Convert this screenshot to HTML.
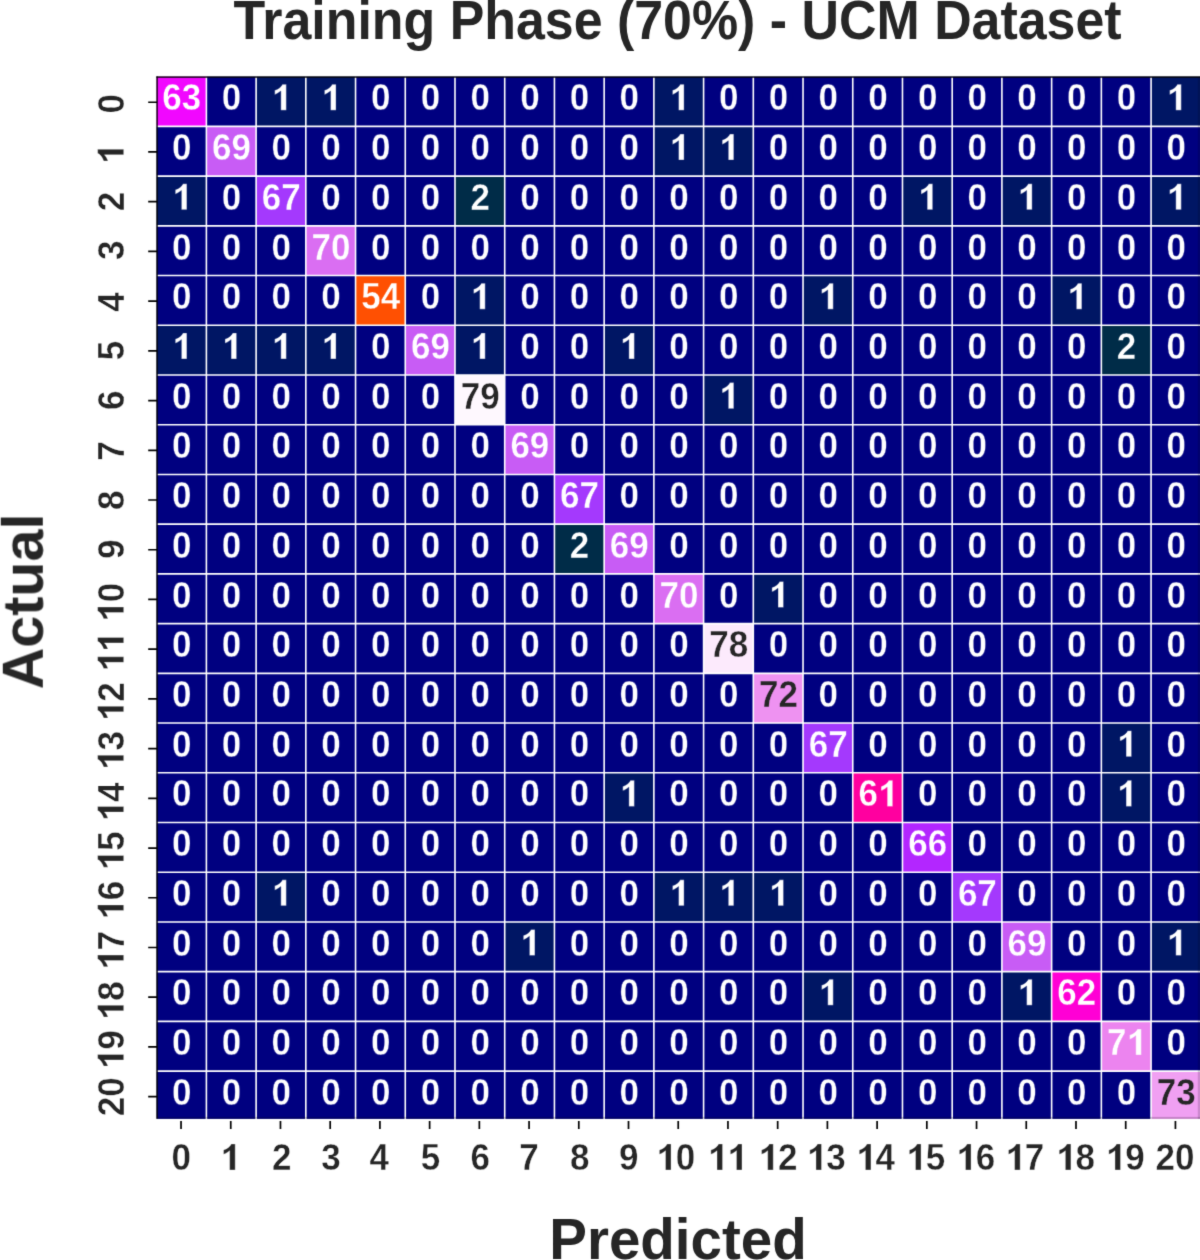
<!DOCTYPE html>
<html><head><meta charset="utf-8"><style>
html,body{margin:0;padding:0;background:#fff;width:1200px;height:1260px;overflow:hidden}
#w{position:absolute;left:0;top:0;width:1200px;height:1260px;}
svg{display:block}
text{font-family:"Liberation Sans",sans-serif;font-weight:bold}
</style></head><body><div id="w">
<svg width="1200" height="1260" viewBox="0 0 1200 1260">
<defs><filter id="bl" color-interpolation-filters="sRGB" x="0" y="0" width="1200" height="1260" filterUnits="userSpaceOnUse"><feConvolveMatrix order="3" kernelMatrix="0.0144 0.0912 0.0144 0.0912 0.5776 0.0912 0.0144 0.0912 0.0144" edgeMode="duplicate" preserveAlpha="true"/></filter><path id="one" d="M0.265 0L0.423 0L0.423 0.716L0.31 0.716C0.285 0.65 0.2 0.585 0.09 0.55L0.09 0.43C0.155 0.452 0.22 0.49 0.265 0.53Z"/></defs>
<g filter="url(#bl)"><rect width="1200" height="1260" fill="#fff"/>
<g><rect x="156.67" y="76.69" width="49.72" height="49.72" fill="#f107ff"/><rect x="206.39" y="76.69" width="49.72" height="49.72" fill="#000080"/><rect x="256.11" y="76.69" width="49.72" height="49.72" fill="#001664"/><rect x="305.83" y="76.69" width="49.72" height="49.72" fill="#001664"/><rect x="355.55" y="76.69" width="49.72" height="49.72" fill="#000080"/><rect x="405.27" y="76.69" width="49.72" height="49.72" fill="#000080"/><rect x="454.99" y="76.69" width="49.72" height="49.72" fill="#000080"/><rect x="504.71" y="76.69" width="49.72" height="49.72" fill="#000080"/><rect x="554.43" y="76.69" width="49.72" height="49.72" fill="#000080"/><rect x="604.15" y="76.69" width="49.72" height="49.72" fill="#000080"/><rect x="653.87" y="76.69" width="49.72" height="49.72" fill="#001664"/><rect x="703.59" y="76.69" width="49.72" height="49.72" fill="#000080"/><rect x="753.31" y="76.69" width="49.72" height="49.72" fill="#000080"/><rect x="803.03" y="76.69" width="49.72" height="49.72" fill="#000080"/><rect x="852.75" y="76.69" width="49.72" height="49.72" fill="#000080"/><rect x="902.47" y="76.69" width="49.72" height="49.72" fill="#000080"/><rect x="952.19" y="76.69" width="49.72" height="49.72" fill="#000080"/><rect x="1001.91" y="76.69" width="49.72" height="49.72" fill="#000080"/><rect x="1051.63" y="76.69" width="49.72" height="49.72" fill="#000080"/><rect x="1101.35" y="76.69" width="49.72" height="49.72" fill="#000080"/><rect x="1151.07" y="76.69" width="49.72" height="49.72" fill="#001664"/><rect x="156.67" y="126.41" width="49.72" height="49.72" fill="#000080"/><rect x="206.39" y="126.41" width="49.72" height="49.72" fill="#c85cf5"/><rect x="256.11" y="126.41" width="49.72" height="49.72" fill="#000080"/><rect x="305.83" y="126.41" width="49.72" height="49.72" fill="#000080"/><rect x="355.55" y="126.41" width="49.72" height="49.72" fill="#000080"/><rect x="405.27" y="126.41" width="49.72" height="49.72" fill="#000080"/><rect x="454.99" y="126.41" width="49.72" height="49.72" fill="#000080"/><rect x="504.71" y="126.41" width="49.72" height="49.72" fill="#000080"/><rect x="554.43" y="126.41" width="49.72" height="49.72" fill="#000080"/><rect x="604.15" y="126.41" width="49.72" height="49.72" fill="#000080"/><rect x="653.87" y="126.41" width="49.72" height="49.72" fill="#001664"/><rect x="703.59" y="126.41" width="49.72" height="49.72" fill="#001664"/><rect x="753.31" y="126.41" width="49.72" height="49.72" fill="#000080"/><rect x="803.03" y="126.41" width="49.72" height="49.72" fill="#000080"/><rect x="852.75" y="126.41" width="49.72" height="49.72" fill="#000080"/><rect x="902.47" y="126.41" width="49.72" height="49.72" fill="#000080"/><rect x="952.19" y="126.41" width="49.72" height="49.72" fill="#000080"/><rect x="1001.91" y="126.41" width="49.72" height="49.72" fill="#000080"/><rect x="1051.63" y="126.41" width="49.72" height="49.72" fill="#000080"/><rect x="1101.35" y="126.41" width="49.72" height="49.72" fill="#000080"/><rect x="1151.07" y="126.41" width="49.72" height="49.72" fill="#000080"/><rect x="156.67" y="176.13" width="49.72" height="49.72" fill="#001664"/><rect x="206.39" y="176.13" width="49.72" height="49.72" fill="#000080"/><rect x="256.11" y="176.13" width="49.72" height="49.72" fill="#a439fd"/><rect x="305.83" y="176.13" width="49.72" height="49.72" fill="#000080"/><rect x="355.55" y="176.13" width="49.72" height="49.72" fill="#000080"/><rect x="405.27" y="176.13" width="49.72" height="49.72" fill="#000080"/><rect x="454.99" y="176.13" width="49.72" height="49.72" fill="#002c48"/><rect x="504.71" y="176.13" width="49.72" height="49.72" fill="#000080"/><rect x="554.43" y="176.13" width="49.72" height="49.72" fill="#000080"/><rect x="604.15" y="176.13" width="49.72" height="49.72" fill="#000080"/><rect x="653.87" y="176.13" width="49.72" height="49.72" fill="#000080"/><rect x="703.59" y="176.13" width="49.72" height="49.72" fill="#000080"/><rect x="753.31" y="176.13" width="49.72" height="49.72" fill="#000080"/><rect x="803.03" y="176.13" width="49.72" height="49.72" fill="#000080"/><rect x="852.75" y="176.13" width="49.72" height="49.72" fill="#000080"/><rect x="902.47" y="176.13" width="49.72" height="49.72" fill="#001664"/><rect x="952.19" y="176.13" width="49.72" height="49.72" fill="#000080"/><rect x="1001.91" y="176.13" width="49.72" height="49.72" fill="#001664"/><rect x="1051.63" y="176.13" width="49.72" height="49.72" fill="#000080"/><rect x="1101.35" y="176.13" width="49.72" height="49.72" fill="#000080"/><rect x="1151.07" y="176.13" width="49.72" height="49.72" fill="#001664"/><rect x="156.67" y="225.85" width="49.72" height="49.72" fill="#000080"/><rect x="206.39" y="225.85" width="49.72" height="49.72" fill="#000080"/><rect x="256.11" y="225.85" width="49.72" height="49.72" fill="#000080"/><rect x="305.83" y="225.85" width="49.72" height="49.72" fill="#da6ef2"/><rect x="355.55" y="225.85" width="49.72" height="49.72" fill="#000080"/><rect x="405.27" y="225.85" width="49.72" height="49.72" fill="#000080"/><rect x="454.99" y="225.85" width="49.72" height="49.72" fill="#000080"/><rect x="504.71" y="225.85" width="49.72" height="49.72" fill="#000080"/><rect x="554.43" y="225.85" width="49.72" height="49.72" fill="#000080"/><rect x="604.15" y="225.85" width="49.72" height="49.72" fill="#000080"/><rect x="653.87" y="225.85" width="49.72" height="49.72" fill="#000080"/><rect x="703.59" y="225.85" width="49.72" height="49.72" fill="#000080"/><rect x="753.31" y="225.85" width="49.72" height="49.72" fill="#000080"/><rect x="803.03" y="225.85" width="49.72" height="49.72" fill="#000080"/><rect x="852.75" y="225.85" width="49.72" height="49.72" fill="#000080"/><rect x="902.47" y="225.85" width="49.72" height="49.72" fill="#000080"/><rect x="952.19" y="225.85" width="49.72" height="49.72" fill="#000080"/><rect x="1001.91" y="225.85" width="49.72" height="49.72" fill="#000080"/><rect x="1051.63" y="225.85" width="49.72" height="49.72" fill="#000080"/><rect x="1101.35" y="225.85" width="49.72" height="49.72" fill="#000080"/><rect x="1151.07" y="225.85" width="49.72" height="49.72" fill="#000080"/><rect x="156.67" y="275.57" width="49.72" height="49.72" fill="#000080"/><rect x="206.39" y="275.57" width="49.72" height="49.72" fill="#000080"/><rect x="256.11" y="275.57" width="49.72" height="49.72" fill="#000080"/><rect x="305.83" y="275.57" width="49.72" height="49.72" fill="#000080"/><rect x="355.55" y="275.57" width="49.72" height="49.72" fill="#ff5002"/><rect x="405.27" y="275.57" width="49.72" height="49.72" fill="#000080"/><rect x="454.99" y="275.57" width="49.72" height="49.72" fill="#001664"/><rect x="504.71" y="275.57" width="49.72" height="49.72" fill="#000080"/><rect x="554.43" y="275.57" width="49.72" height="49.72" fill="#000080"/><rect x="604.15" y="275.57" width="49.72" height="49.72" fill="#000080"/><rect x="653.87" y="275.57" width="49.72" height="49.72" fill="#000080"/><rect x="703.59" y="275.57" width="49.72" height="49.72" fill="#000080"/><rect x="753.31" y="275.57" width="49.72" height="49.72" fill="#000080"/><rect x="803.03" y="275.57" width="49.72" height="49.72" fill="#001664"/><rect x="852.75" y="275.57" width="49.72" height="49.72" fill="#000080"/><rect x="902.47" y="275.57" width="49.72" height="49.72" fill="#000080"/><rect x="952.19" y="275.57" width="49.72" height="49.72" fill="#000080"/><rect x="1001.91" y="275.57" width="49.72" height="49.72" fill="#000080"/><rect x="1051.63" y="275.57" width="49.72" height="49.72" fill="#001664"/><rect x="1101.35" y="275.57" width="49.72" height="49.72" fill="#000080"/><rect x="1151.07" y="275.57" width="49.72" height="49.72" fill="#000080"/><rect x="156.67" y="325.29" width="49.72" height="49.72" fill="#001664"/><rect x="206.39" y="325.29" width="49.72" height="49.72" fill="#001664"/><rect x="256.11" y="325.29" width="49.72" height="49.72" fill="#001664"/><rect x="305.83" y="325.29" width="49.72" height="49.72" fill="#001664"/><rect x="355.55" y="325.29" width="49.72" height="49.72" fill="#000080"/><rect x="405.27" y="325.29" width="49.72" height="49.72" fill="#c85cf5"/><rect x="454.99" y="325.29" width="49.72" height="49.72" fill="#001664"/><rect x="504.71" y="325.29" width="49.72" height="49.72" fill="#000080"/><rect x="554.43" y="325.29" width="49.72" height="49.72" fill="#000080"/><rect x="604.15" y="325.29" width="49.72" height="49.72" fill="#001664"/><rect x="653.87" y="325.29" width="49.72" height="49.72" fill="#000080"/><rect x="703.59" y="325.29" width="49.72" height="49.72" fill="#000080"/><rect x="753.31" y="325.29" width="49.72" height="49.72" fill="#000080"/><rect x="803.03" y="325.29" width="49.72" height="49.72" fill="#000080"/><rect x="852.75" y="325.29" width="49.72" height="49.72" fill="#000080"/><rect x="902.47" y="325.29" width="49.72" height="49.72" fill="#000080"/><rect x="952.19" y="325.29" width="49.72" height="49.72" fill="#000080"/><rect x="1001.91" y="325.29" width="49.72" height="49.72" fill="#000080"/><rect x="1051.63" y="325.29" width="49.72" height="49.72" fill="#000080"/><rect x="1101.35" y="325.29" width="49.72" height="49.72" fill="#002c48"/><rect x="1151.07" y="325.29" width="49.72" height="49.72" fill="#000080"/><rect x="156.67" y="375.01" width="49.72" height="49.72" fill="#000080"/><rect x="206.39" y="375.01" width="49.72" height="49.72" fill="#000080"/><rect x="256.11" y="375.01" width="49.72" height="49.72" fill="#000080"/><rect x="305.83" y="375.01" width="49.72" height="49.72" fill="#000080"/><rect x="355.55" y="375.01" width="49.72" height="49.72" fill="#000080"/><rect x="405.27" y="375.01" width="49.72" height="49.72" fill="#000080"/><rect x="454.99" y="375.01" width="49.72" height="49.72" fill="#fef8fe"/><rect x="504.71" y="375.01" width="49.72" height="49.72" fill="#000080"/><rect x="554.43" y="375.01" width="49.72" height="49.72" fill="#000080"/><rect x="604.15" y="375.01" width="49.72" height="49.72" fill="#000080"/><rect x="653.87" y="375.01" width="49.72" height="49.72" fill="#000080"/><rect x="703.59" y="375.01" width="49.72" height="49.72" fill="#001664"/><rect x="753.31" y="375.01" width="49.72" height="49.72" fill="#000080"/><rect x="803.03" y="375.01" width="49.72" height="49.72" fill="#000080"/><rect x="852.75" y="375.01" width="49.72" height="49.72" fill="#000080"/><rect x="902.47" y="375.01" width="49.72" height="49.72" fill="#000080"/><rect x="952.19" y="375.01" width="49.72" height="49.72" fill="#000080"/><rect x="1001.91" y="375.01" width="49.72" height="49.72" fill="#000080"/><rect x="1051.63" y="375.01" width="49.72" height="49.72" fill="#000080"/><rect x="1101.35" y="375.01" width="49.72" height="49.72" fill="#000080"/><rect x="1151.07" y="375.01" width="49.72" height="49.72" fill="#000080"/><rect x="156.67" y="424.73" width="49.72" height="49.72" fill="#000080"/><rect x="206.39" y="424.73" width="49.72" height="49.72" fill="#000080"/><rect x="256.11" y="424.73" width="49.72" height="49.72" fill="#000080"/><rect x="305.83" y="424.73" width="49.72" height="49.72" fill="#000080"/><rect x="355.55" y="424.73" width="49.72" height="49.72" fill="#000080"/><rect x="405.27" y="424.73" width="49.72" height="49.72" fill="#000080"/><rect x="454.99" y="424.73" width="49.72" height="49.72" fill="#000080"/><rect x="504.71" y="424.73" width="49.72" height="49.72" fill="#c85cf5"/><rect x="554.43" y="424.73" width="49.72" height="49.72" fill="#000080"/><rect x="604.15" y="424.73" width="49.72" height="49.72" fill="#000080"/><rect x="653.87" y="424.73" width="49.72" height="49.72" fill="#000080"/><rect x="703.59" y="424.73" width="49.72" height="49.72" fill="#000080"/><rect x="753.31" y="424.73" width="49.72" height="49.72" fill="#000080"/><rect x="803.03" y="424.73" width="49.72" height="49.72" fill="#000080"/><rect x="852.75" y="424.73" width="49.72" height="49.72" fill="#000080"/><rect x="902.47" y="424.73" width="49.72" height="49.72" fill="#000080"/><rect x="952.19" y="424.73" width="49.72" height="49.72" fill="#000080"/><rect x="1001.91" y="424.73" width="49.72" height="49.72" fill="#000080"/><rect x="1051.63" y="424.73" width="49.72" height="49.72" fill="#000080"/><rect x="1101.35" y="424.73" width="49.72" height="49.72" fill="#000080"/><rect x="1151.07" y="424.73" width="49.72" height="49.72" fill="#000080"/><rect x="156.67" y="474.45" width="49.72" height="49.72" fill="#000080"/><rect x="206.39" y="474.45" width="49.72" height="49.72" fill="#000080"/><rect x="256.11" y="474.45" width="49.72" height="49.72" fill="#000080"/><rect x="305.83" y="474.45" width="49.72" height="49.72" fill="#000080"/><rect x="355.55" y="474.45" width="49.72" height="49.72" fill="#000080"/><rect x="405.27" y="474.45" width="49.72" height="49.72" fill="#000080"/><rect x="454.99" y="474.45" width="49.72" height="49.72" fill="#000080"/><rect x="504.71" y="474.45" width="49.72" height="49.72" fill="#000080"/><rect x="554.43" y="474.45" width="49.72" height="49.72" fill="#a439fd"/><rect x="604.15" y="474.45" width="49.72" height="49.72" fill="#000080"/><rect x="653.87" y="474.45" width="49.72" height="49.72" fill="#000080"/><rect x="703.59" y="474.45" width="49.72" height="49.72" fill="#000080"/><rect x="753.31" y="474.45" width="49.72" height="49.72" fill="#000080"/><rect x="803.03" y="474.45" width="49.72" height="49.72" fill="#000080"/><rect x="852.75" y="474.45" width="49.72" height="49.72" fill="#000080"/><rect x="902.47" y="474.45" width="49.72" height="49.72" fill="#000080"/><rect x="952.19" y="474.45" width="49.72" height="49.72" fill="#000080"/><rect x="1001.91" y="474.45" width="49.72" height="49.72" fill="#000080"/><rect x="1051.63" y="474.45" width="49.72" height="49.72" fill="#000080"/><rect x="1101.35" y="474.45" width="49.72" height="49.72" fill="#000080"/><rect x="1151.07" y="474.45" width="49.72" height="49.72" fill="#000080"/><rect x="156.67" y="524.17" width="49.72" height="49.72" fill="#000080"/><rect x="206.39" y="524.17" width="49.72" height="49.72" fill="#000080"/><rect x="256.11" y="524.17" width="49.72" height="49.72" fill="#000080"/><rect x="305.83" y="524.17" width="49.72" height="49.72" fill="#000080"/><rect x="355.55" y="524.17" width="49.72" height="49.72" fill="#000080"/><rect x="405.27" y="524.17" width="49.72" height="49.72" fill="#000080"/><rect x="454.99" y="524.17" width="49.72" height="49.72" fill="#000080"/><rect x="504.71" y="524.17" width="49.72" height="49.72" fill="#000080"/><rect x="554.43" y="524.17" width="49.72" height="49.72" fill="#002c48"/><rect x="604.15" y="524.17" width="49.72" height="49.72" fill="#c85cf5"/><rect x="653.87" y="524.17" width="49.72" height="49.72" fill="#000080"/><rect x="703.59" y="524.17" width="49.72" height="49.72" fill="#000080"/><rect x="753.31" y="524.17" width="49.72" height="49.72" fill="#000080"/><rect x="803.03" y="524.17" width="49.72" height="49.72" fill="#000080"/><rect x="852.75" y="524.17" width="49.72" height="49.72" fill="#000080"/><rect x="902.47" y="524.17" width="49.72" height="49.72" fill="#000080"/><rect x="952.19" y="524.17" width="49.72" height="49.72" fill="#000080"/><rect x="1001.91" y="524.17" width="49.72" height="49.72" fill="#000080"/><rect x="1051.63" y="524.17" width="49.72" height="49.72" fill="#000080"/><rect x="1101.35" y="524.17" width="49.72" height="49.72" fill="#000080"/><rect x="1151.07" y="524.17" width="49.72" height="49.72" fill="#000080"/><rect x="156.67" y="573.89" width="49.72" height="49.72" fill="#000080"/><rect x="206.39" y="573.89" width="49.72" height="49.72" fill="#000080"/><rect x="256.11" y="573.89" width="49.72" height="49.72" fill="#000080"/><rect x="305.83" y="573.89" width="49.72" height="49.72" fill="#000080"/><rect x="355.55" y="573.89" width="49.72" height="49.72" fill="#000080"/><rect x="405.27" y="573.89" width="49.72" height="49.72" fill="#000080"/><rect x="454.99" y="573.89" width="49.72" height="49.72" fill="#000080"/><rect x="504.71" y="573.89" width="49.72" height="49.72" fill="#000080"/><rect x="554.43" y="573.89" width="49.72" height="49.72" fill="#000080"/><rect x="604.15" y="573.89" width="49.72" height="49.72" fill="#000080"/><rect x="653.87" y="573.89" width="49.72" height="49.72" fill="#da6ef2"/><rect x="703.59" y="573.89" width="49.72" height="49.72" fill="#000080"/><rect x="753.31" y="573.89" width="49.72" height="49.72" fill="#001664"/><rect x="803.03" y="573.89" width="49.72" height="49.72" fill="#000080"/><rect x="852.75" y="573.89" width="49.72" height="49.72" fill="#000080"/><rect x="902.47" y="573.89" width="49.72" height="49.72" fill="#000080"/><rect x="952.19" y="573.89" width="49.72" height="49.72" fill="#000080"/><rect x="1001.91" y="573.89" width="49.72" height="49.72" fill="#000080"/><rect x="1051.63" y="573.89" width="49.72" height="49.72" fill="#000080"/><rect x="1101.35" y="573.89" width="49.72" height="49.72" fill="#000080"/><rect x="1151.07" y="573.89" width="49.72" height="49.72" fill="#000080"/><rect x="156.67" y="623.61" width="49.72" height="49.72" fill="#000080"/><rect x="206.39" y="623.61" width="49.72" height="49.72" fill="#000080"/><rect x="256.11" y="623.61" width="49.72" height="49.72" fill="#000080"/><rect x="305.83" y="623.61" width="49.72" height="49.72" fill="#000080"/><rect x="355.55" y="623.61" width="49.72" height="49.72" fill="#000080"/><rect x="405.27" y="623.61" width="49.72" height="49.72" fill="#000080"/><rect x="454.99" y="623.61" width="49.72" height="49.72" fill="#000080"/><rect x="504.71" y="623.61" width="49.72" height="49.72" fill="#000080"/><rect x="554.43" y="623.61" width="49.72" height="49.72" fill="#000080"/><rect x="604.15" y="623.61" width="49.72" height="49.72" fill="#000080"/><rect x="653.87" y="623.61" width="49.72" height="49.72" fill="#000080"/><rect x="703.59" y="623.61" width="49.72" height="49.72" fill="#fceafc"/><rect x="753.31" y="623.61" width="49.72" height="49.72" fill="#000080"/><rect x="803.03" y="623.61" width="49.72" height="49.72" fill="#000080"/><rect x="852.75" y="623.61" width="49.72" height="49.72" fill="#000080"/><rect x="902.47" y="623.61" width="49.72" height="49.72" fill="#000080"/><rect x="952.19" y="623.61" width="49.72" height="49.72" fill="#000080"/><rect x="1001.91" y="623.61" width="49.72" height="49.72" fill="#000080"/><rect x="1051.63" y="623.61" width="49.72" height="49.72" fill="#000080"/><rect x="1101.35" y="623.61" width="49.72" height="49.72" fill="#000080"/><rect x="1151.07" y="623.61" width="49.72" height="49.72" fill="#000080"/><rect x="156.67" y="673.33" width="49.72" height="49.72" fill="#000080"/><rect x="206.39" y="673.33" width="49.72" height="49.72" fill="#000080"/><rect x="256.11" y="673.33" width="49.72" height="49.72" fill="#000080"/><rect x="305.83" y="673.33" width="49.72" height="49.72" fill="#000080"/><rect x="355.55" y="673.33" width="49.72" height="49.72" fill="#000080"/><rect x="405.27" y="673.33" width="49.72" height="49.72" fill="#000080"/><rect x="454.99" y="673.33" width="49.72" height="49.72" fill="#000080"/><rect x="504.71" y="673.33" width="49.72" height="49.72" fill="#000080"/><rect x="554.43" y="673.33" width="49.72" height="49.72" fill="#000080"/><rect x="604.15" y="673.33" width="49.72" height="49.72" fill="#000080"/><rect x="653.87" y="673.33" width="49.72" height="49.72" fill="#000080"/><rect x="703.59" y="673.33" width="49.72" height="49.72" fill="#000080"/><rect x="753.31" y="673.33" width="49.72" height="49.72" fill="#ee92f1"/><rect x="803.03" y="673.33" width="49.72" height="49.72" fill="#000080"/><rect x="852.75" y="673.33" width="49.72" height="49.72" fill="#000080"/><rect x="902.47" y="673.33" width="49.72" height="49.72" fill="#000080"/><rect x="952.19" y="673.33" width="49.72" height="49.72" fill="#000080"/><rect x="1001.91" y="673.33" width="49.72" height="49.72" fill="#000080"/><rect x="1051.63" y="673.33" width="49.72" height="49.72" fill="#000080"/><rect x="1101.35" y="673.33" width="49.72" height="49.72" fill="#000080"/><rect x="1151.07" y="673.33" width="49.72" height="49.72" fill="#000080"/><rect x="156.67" y="723.05" width="49.72" height="49.72" fill="#000080"/><rect x="206.39" y="723.05" width="49.72" height="49.72" fill="#000080"/><rect x="256.11" y="723.05" width="49.72" height="49.72" fill="#000080"/><rect x="305.83" y="723.05" width="49.72" height="49.72" fill="#000080"/><rect x="355.55" y="723.05" width="49.72" height="49.72" fill="#000080"/><rect x="405.27" y="723.05" width="49.72" height="49.72" fill="#000080"/><rect x="454.99" y="723.05" width="49.72" height="49.72" fill="#000080"/><rect x="504.71" y="723.05" width="49.72" height="49.72" fill="#000080"/><rect x="554.43" y="723.05" width="49.72" height="49.72" fill="#000080"/><rect x="604.15" y="723.05" width="49.72" height="49.72" fill="#000080"/><rect x="653.87" y="723.05" width="49.72" height="49.72" fill="#000080"/><rect x="703.59" y="723.05" width="49.72" height="49.72" fill="#000080"/><rect x="753.31" y="723.05" width="49.72" height="49.72" fill="#000080"/><rect x="803.03" y="723.05" width="49.72" height="49.72" fill="#a439fd"/><rect x="852.75" y="723.05" width="49.72" height="49.72" fill="#000080"/><rect x="902.47" y="723.05" width="49.72" height="49.72" fill="#000080"/><rect x="952.19" y="723.05" width="49.72" height="49.72" fill="#000080"/><rect x="1001.91" y="723.05" width="49.72" height="49.72" fill="#000080"/><rect x="1051.63" y="723.05" width="49.72" height="49.72" fill="#000080"/><rect x="1101.35" y="723.05" width="49.72" height="49.72" fill="#001664"/><rect x="1151.07" y="723.05" width="49.72" height="49.72" fill="#000080"/><rect x="156.67" y="772.77" width="49.72" height="49.72" fill="#000080"/><rect x="206.39" y="772.77" width="49.72" height="49.72" fill="#000080"/><rect x="256.11" y="772.77" width="49.72" height="49.72" fill="#000080"/><rect x="305.83" y="772.77" width="49.72" height="49.72" fill="#000080"/><rect x="355.55" y="772.77" width="49.72" height="49.72" fill="#000080"/><rect x="405.27" y="772.77" width="49.72" height="49.72" fill="#000080"/><rect x="454.99" y="772.77" width="49.72" height="49.72" fill="#000080"/><rect x="504.71" y="772.77" width="49.72" height="49.72" fill="#000080"/><rect x="554.43" y="772.77" width="49.72" height="49.72" fill="#000080"/><rect x="604.15" y="772.77" width="49.72" height="49.72" fill="#001664"/><rect x="653.87" y="772.77" width="49.72" height="49.72" fill="#000080"/><rect x="703.59" y="772.77" width="49.72" height="49.72" fill="#000080"/><rect x="753.31" y="772.77" width="49.72" height="49.72" fill="#000080"/><rect x="803.03" y="772.77" width="49.72" height="49.72" fill="#000080"/><rect x="852.75" y="772.77" width="49.72" height="49.72" fill="#ff009f"/><rect x="902.47" y="772.77" width="49.72" height="49.72" fill="#000080"/><rect x="952.19" y="772.77" width="49.72" height="49.72" fill="#000080"/><rect x="1001.91" y="772.77" width="49.72" height="49.72" fill="#000080"/><rect x="1051.63" y="772.77" width="49.72" height="49.72" fill="#000080"/><rect x="1101.35" y="772.77" width="49.72" height="49.72" fill="#001664"/><rect x="1151.07" y="772.77" width="49.72" height="49.72" fill="#000080"/><rect x="156.67" y="822.49" width="49.72" height="49.72" fill="#000080"/><rect x="206.39" y="822.49" width="49.72" height="49.72" fill="#000080"/><rect x="256.11" y="822.49" width="49.72" height="49.72" fill="#000080"/><rect x="305.83" y="822.49" width="49.72" height="49.72" fill="#000080"/><rect x="355.55" y="822.49" width="49.72" height="49.72" fill="#000080"/><rect x="405.27" y="822.49" width="49.72" height="49.72" fill="#000080"/><rect x="454.99" y="822.49" width="49.72" height="49.72" fill="#000080"/><rect x="504.71" y="822.49" width="49.72" height="49.72" fill="#000080"/><rect x="554.43" y="822.49" width="49.72" height="49.72" fill="#000080"/><rect x="604.15" y="822.49" width="49.72" height="49.72" fill="#000080"/><rect x="653.87" y="822.49" width="49.72" height="49.72" fill="#000080"/><rect x="703.59" y="822.49" width="49.72" height="49.72" fill="#000080"/><rect x="753.31" y="822.49" width="49.72" height="49.72" fill="#000080"/><rect x="803.03" y="822.49" width="49.72" height="49.72" fill="#000080"/><rect x="852.75" y="822.49" width="49.72" height="49.72" fill="#000080"/><rect x="902.47" y="822.49" width="49.72" height="49.72" fill="#b326ff"/><rect x="952.19" y="822.49" width="49.72" height="49.72" fill="#000080"/><rect x="1001.91" y="822.49" width="49.72" height="49.72" fill="#000080"/><rect x="1051.63" y="822.49" width="49.72" height="49.72" fill="#000080"/><rect x="1101.35" y="822.49" width="49.72" height="49.72" fill="#000080"/><rect x="1151.07" y="822.49" width="49.72" height="49.72" fill="#000080"/><rect x="156.67" y="872.21" width="49.72" height="49.72" fill="#000080"/><rect x="206.39" y="872.21" width="49.72" height="49.72" fill="#000080"/><rect x="256.11" y="872.21" width="49.72" height="49.72" fill="#001664"/><rect x="305.83" y="872.21" width="49.72" height="49.72" fill="#000080"/><rect x="355.55" y="872.21" width="49.72" height="49.72" fill="#000080"/><rect x="405.27" y="872.21" width="49.72" height="49.72" fill="#000080"/><rect x="454.99" y="872.21" width="49.72" height="49.72" fill="#000080"/><rect x="504.71" y="872.21" width="49.72" height="49.72" fill="#000080"/><rect x="554.43" y="872.21" width="49.72" height="49.72" fill="#000080"/><rect x="604.15" y="872.21" width="49.72" height="49.72" fill="#000080"/><rect x="653.87" y="872.21" width="49.72" height="49.72" fill="#001664"/><rect x="703.59" y="872.21" width="49.72" height="49.72" fill="#001664"/><rect x="753.31" y="872.21" width="49.72" height="49.72" fill="#001664"/><rect x="803.03" y="872.21" width="49.72" height="49.72" fill="#000080"/><rect x="852.75" y="872.21" width="49.72" height="49.72" fill="#000080"/><rect x="902.47" y="872.21" width="49.72" height="49.72" fill="#000080"/><rect x="952.19" y="872.21" width="49.72" height="49.72" fill="#a439fd"/><rect x="1001.91" y="872.21" width="49.72" height="49.72" fill="#000080"/><rect x="1051.63" y="872.21" width="49.72" height="49.72" fill="#000080"/><rect x="1101.35" y="872.21" width="49.72" height="49.72" fill="#000080"/><rect x="1151.07" y="872.21" width="49.72" height="49.72" fill="#000080"/><rect x="156.67" y="921.93" width="49.72" height="49.72" fill="#000080"/><rect x="206.39" y="921.93" width="49.72" height="49.72" fill="#000080"/><rect x="256.11" y="921.93" width="49.72" height="49.72" fill="#000080"/><rect x="305.83" y="921.93" width="49.72" height="49.72" fill="#000080"/><rect x="355.55" y="921.93" width="49.72" height="49.72" fill="#000080"/><rect x="405.27" y="921.93" width="49.72" height="49.72" fill="#000080"/><rect x="454.99" y="921.93" width="49.72" height="49.72" fill="#000080"/><rect x="504.71" y="921.93" width="49.72" height="49.72" fill="#001664"/><rect x="554.43" y="921.93" width="49.72" height="49.72" fill="#000080"/><rect x="604.15" y="921.93" width="49.72" height="49.72" fill="#000080"/><rect x="653.87" y="921.93" width="49.72" height="49.72" fill="#000080"/><rect x="703.59" y="921.93" width="49.72" height="49.72" fill="#000080"/><rect x="753.31" y="921.93" width="49.72" height="49.72" fill="#000080"/><rect x="803.03" y="921.93" width="49.72" height="49.72" fill="#000080"/><rect x="852.75" y="921.93" width="49.72" height="49.72" fill="#000080"/><rect x="902.47" y="921.93" width="49.72" height="49.72" fill="#000080"/><rect x="952.19" y="921.93" width="49.72" height="49.72" fill="#000080"/><rect x="1001.91" y="921.93" width="49.72" height="49.72" fill="#c85cf5"/><rect x="1051.63" y="921.93" width="49.72" height="49.72" fill="#000080"/><rect x="1101.35" y="921.93" width="49.72" height="49.72" fill="#000080"/><rect x="1151.07" y="921.93" width="49.72" height="49.72" fill="#001664"/><rect x="156.67" y="971.65" width="49.72" height="49.72" fill="#000080"/><rect x="206.39" y="971.65" width="49.72" height="49.72" fill="#000080"/><rect x="256.11" y="971.65" width="49.72" height="49.72" fill="#000080"/><rect x="305.83" y="971.65" width="49.72" height="49.72" fill="#000080"/><rect x="355.55" y="971.65" width="49.72" height="49.72" fill="#000080"/><rect x="405.27" y="971.65" width="49.72" height="49.72" fill="#000080"/><rect x="454.99" y="971.65" width="49.72" height="49.72" fill="#000080"/><rect x="504.71" y="971.65" width="49.72" height="49.72" fill="#000080"/><rect x="554.43" y="971.65" width="49.72" height="49.72" fill="#000080"/><rect x="604.15" y="971.65" width="49.72" height="49.72" fill="#000080"/><rect x="653.87" y="971.65" width="49.72" height="49.72" fill="#000080"/><rect x="703.59" y="971.65" width="49.72" height="49.72" fill="#000080"/><rect x="753.31" y="971.65" width="49.72" height="49.72" fill="#000080"/><rect x="803.03" y="971.65" width="49.72" height="49.72" fill="#001664"/><rect x="852.75" y="971.65" width="49.72" height="49.72" fill="#000080"/><rect x="902.47" y="971.65" width="49.72" height="49.72" fill="#000080"/><rect x="952.19" y="971.65" width="49.72" height="49.72" fill="#000080"/><rect x="1001.91" y="971.65" width="49.72" height="49.72" fill="#001664"/><rect x="1051.63" y="971.65" width="49.72" height="49.72" fill="#ff00d5"/><rect x="1101.35" y="971.65" width="49.72" height="49.72" fill="#000080"/><rect x="1151.07" y="971.65" width="49.72" height="49.72" fill="#000080"/><rect x="156.67" y="1021.37" width="49.72" height="49.72" fill="#000080"/><rect x="206.39" y="1021.37" width="49.72" height="49.72" fill="#000080"/><rect x="256.11" y="1021.37" width="49.72" height="49.72" fill="#000080"/><rect x="305.83" y="1021.37" width="49.72" height="49.72" fill="#000080"/><rect x="355.55" y="1021.37" width="49.72" height="49.72" fill="#000080"/><rect x="405.27" y="1021.37" width="49.72" height="49.72" fill="#000080"/><rect x="454.99" y="1021.37" width="49.72" height="49.72" fill="#000080"/><rect x="504.71" y="1021.37" width="49.72" height="49.72" fill="#000080"/><rect x="554.43" y="1021.37" width="49.72" height="49.72" fill="#000080"/><rect x="604.15" y="1021.37" width="49.72" height="49.72" fill="#000080"/><rect x="653.87" y="1021.37" width="49.72" height="49.72" fill="#000080"/><rect x="703.59" y="1021.37" width="49.72" height="49.72" fill="#000080"/><rect x="753.31" y="1021.37" width="49.72" height="49.72" fill="#000080"/><rect x="803.03" y="1021.37" width="49.72" height="49.72" fill="#000080"/><rect x="852.75" y="1021.37" width="49.72" height="49.72" fill="#000080"/><rect x="902.47" y="1021.37" width="49.72" height="49.72" fill="#000080"/><rect x="952.19" y="1021.37" width="49.72" height="49.72" fill="#000080"/><rect x="1001.91" y="1021.37" width="49.72" height="49.72" fill="#000080"/><rect x="1051.63" y="1021.37" width="49.72" height="49.72" fill="#000080"/><rect x="1101.35" y="1021.37" width="49.72" height="49.72" fill="#ec84ef"/><rect x="1151.07" y="1021.37" width="49.72" height="49.72" fill="#000080"/><rect x="156.67" y="1071.09" width="49.72" height="49.72" fill="#000080"/><rect x="206.39" y="1071.09" width="49.72" height="49.72" fill="#000080"/><rect x="256.11" y="1071.09" width="49.72" height="49.72" fill="#000080"/><rect x="305.83" y="1071.09" width="49.72" height="49.72" fill="#000080"/><rect x="355.55" y="1071.09" width="49.72" height="49.72" fill="#000080"/><rect x="405.27" y="1071.09" width="49.72" height="49.72" fill="#000080"/><rect x="454.99" y="1071.09" width="49.72" height="49.72" fill="#000080"/><rect x="504.71" y="1071.09" width="49.72" height="49.72" fill="#000080"/><rect x="554.43" y="1071.09" width="49.72" height="49.72" fill="#000080"/><rect x="604.15" y="1071.09" width="49.72" height="49.72" fill="#000080"/><rect x="653.87" y="1071.09" width="49.72" height="49.72" fill="#000080"/><rect x="703.59" y="1071.09" width="49.72" height="49.72" fill="#000080"/><rect x="753.31" y="1071.09" width="49.72" height="49.72" fill="#000080"/><rect x="803.03" y="1071.09" width="49.72" height="49.72" fill="#000080"/><rect x="852.75" y="1071.09" width="49.72" height="49.72" fill="#000080"/><rect x="902.47" y="1071.09" width="49.72" height="49.72" fill="#000080"/><rect x="952.19" y="1071.09" width="49.72" height="49.72" fill="#000080"/><rect x="1001.91" y="1071.09" width="49.72" height="49.72" fill="#000080"/><rect x="1051.63" y="1071.09" width="49.72" height="49.72" fill="#000080"/><rect x="1101.35" y="1071.09" width="49.72" height="49.72" fill="#000080"/><rect x="1151.07" y="1071.09" width="49.72" height="49.72" fill="#f0a0f2"/></g>
<path d="M206.39 76.69V1120.81M156.67 126.41H1200.79M256.11 76.69V1120.81M156.67 176.13H1200.79M305.83 76.69V1120.81M156.67 225.85H1200.79M355.55 76.69V1120.81M156.67 275.57H1200.79M405.27 76.69V1120.81M156.67 325.29H1200.79M454.99 76.69V1120.81M156.67 375.01H1200.79M504.71 76.69V1120.81M156.67 424.73H1200.79M554.43 76.69V1120.81M156.67 474.45H1200.79M604.15 76.69V1120.81M156.67 524.17H1200.79M653.87 76.69V1120.81M156.67 573.89H1200.79M703.59 76.69V1120.81M156.67 623.61H1200.79M753.31 76.69V1120.81M156.67 673.33H1200.79M803.03 76.69V1120.81M156.67 723.05H1200.79M852.75 76.69V1120.81M156.67 772.77H1200.79M902.47 76.69V1120.81M156.67 822.49H1200.79M952.19 76.69V1120.81M156.67 872.21H1200.79M1001.91 76.69V1120.81M156.67 921.93H1200.79M1051.63 76.69V1120.81M156.67 971.65H1200.79M1101.35 76.69V1120.81M156.67 1021.37H1200.79M1151.07 76.69V1120.81M156.67 1071.09H1200.79M1200.79 76.69V1120.81M156.67 1120.81H1200.79" stroke="#fff" stroke-width="1.6" fill="none"/>
<rect x="156.4" y="76.4" width="1044.39" height="1.35" fill="#000"/>
<rect x="156.4" y="76.4" width="1.35" height="1042.50" fill="#000"/>
<rect x="150" y="1118.9" width="1060" height="2.2" fill="#fff"/>
<rect x="157.7" y="1116.9" width="1050" height="2.0" fill="#000" fill-opacity="0.18"/>
<rect x="1197.8" y="77.7" width="4" height="1041.20" fill="#000" fill-opacity="0.15"/>
<g><g transform="translate(181.83 110.35) scale(1 1.04)" fill="#fff" font-size="35" stroke="#f107ff" stroke-width="0.35"><text x="-19.47" y="0">6</text><text x="0.00" y="0">3</text></g><g transform="translate(231.55 110.35) scale(1 1.04)" fill="#fff" font-size="35" stroke="#000080" stroke-width="0.35"><text x="-9.73" y="0">0</text></g><g transform="translate(281.27 110.35) scale(1 1.04)" fill="#fff" font-size="35" stroke="#001664" stroke-width="0.35"><use href="#one" transform="translate(-9.73 0) scale(35 -35)" stroke-width="0.0100"/></g><g transform="translate(330.99 110.35) scale(1 1.04)" fill="#fff" font-size="35" stroke="#001664" stroke-width="0.35"><use href="#one" transform="translate(-9.73 0) scale(35 -35)" stroke-width="0.0100"/></g><g transform="translate(380.71 110.35) scale(1 1.04)" fill="#fff" font-size="35" stroke="#000080" stroke-width="0.35"><text x="-9.73" y="0">0</text></g><g transform="translate(430.43 110.35) scale(1 1.04)" fill="#fff" font-size="35" stroke="#000080" stroke-width="0.35"><text x="-9.73" y="0">0</text></g><g transform="translate(480.15 110.35) scale(1 1.04)" fill="#fff" font-size="35" stroke="#000080" stroke-width="0.35"><text x="-9.73" y="0">0</text></g><g transform="translate(529.87 110.35) scale(1 1.04)" fill="#fff" font-size="35" stroke="#000080" stroke-width="0.35"><text x="-9.73" y="0">0</text></g><g transform="translate(579.59 110.35) scale(1 1.04)" fill="#fff" font-size="35" stroke="#000080" stroke-width="0.35"><text x="-9.73" y="0">0</text></g><g transform="translate(629.31 110.35) scale(1 1.04)" fill="#fff" font-size="35" stroke="#000080" stroke-width="0.35"><text x="-9.73" y="0">0</text></g><g transform="translate(679.03 110.35) scale(1 1.04)" fill="#fff" font-size="35" stroke="#001664" stroke-width="0.35"><use href="#one" transform="translate(-9.73 0) scale(35 -35)" stroke-width="0.0100"/></g><g transform="translate(728.75 110.35) scale(1 1.04)" fill="#fff" font-size="35" stroke="#000080" stroke-width="0.35"><text x="-9.73" y="0">0</text></g><g transform="translate(778.47 110.35) scale(1 1.04)" fill="#fff" font-size="35" stroke="#000080" stroke-width="0.35"><text x="-9.73" y="0">0</text></g><g transform="translate(828.19 110.35) scale(1 1.04)" fill="#fff" font-size="35" stroke="#000080" stroke-width="0.35"><text x="-9.73" y="0">0</text></g><g transform="translate(877.91 110.35) scale(1 1.04)" fill="#fff" font-size="35" stroke="#000080" stroke-width="0.35"><text x="-9.73" y="0">0</text></g><g transform="translate(927.63 110.35) scale(1 1.04)" fill="#fff" font-size="35" stroke="#000080" stroke-width="0.35"><text x="-9.73" y="0">0</text></g><g transform="translate(977.35 110.35) scale(1 1.04)" fill="#fff" font-size="35" stroke="#000080" stroke-width="0.35"><text x="-9.73" y="0">0</text></g><g transform="translate(1027.07 110.35) scale(1 1.04)" fill="#fff" font-size="35" stroke="#000080" stroke-width="0.35"><text x="-9.73" y="0">0</text></g><g transform="translate(1076.79 110.35) scale(1 1.04)" fill="#fff" font-size="35" stroke="#000080" stroke-width="0.35"><text x="-9.73" y="0">0</text></g><g transform="translate(1126.51 110.35) scale(1 1.04)" fill="#fff" font-size="35" stroke="#000080" stroke-width="0.35"><text x="-9.73" y="0">0</text></g><g transform="translate(1176.23 110.35) scale(1 1.04)" fill="#fff" font-size="35" stroke="#001664" stroke-width="0.35"><use href="#one" transform="translate(-9.73 0) scale(35 -35)" stroke-width="0.0100"/></g><g transform="translate(181.83 160.07) scale(1 1.04)" fill="#fff" font-size="35" stroke="#000080" stroke-width="0.35"><text x="-9.73" y="0">0</text></g><g transform="translate(231.55 160.07) scale(1 1.04)" fill="#fff" font-size="35" stroke="#c85cf5" stroke-width="0.35"><text x="-19.47" y="0">6</text><text x="0.00" y="0">9</text></g><g transform="translate(281.27 160.07) scale(1 1.04)" fill="#fff" font-size="35" stroke="#000080" stroke-width="0.35"><text x="-9.73" y="0">0</text></g><g transform="translate(330.99 160.07) scale(1 1.04)" fill="#fff" font-size="35" stroke="#000080" stroke-width="0.35"><text x="-9.73" y="0">0</text></g><g transform="translate(380.71 160.07) scale(1 1.04)" fill="#fff" font-size="35" stroke="#000080" stroke-width="0.35"><text x="-9.73" y="0">0</text></g><g transform="translate(430.43 160.07) scale(1 1.04)" fill="#fff" font-size="35" stroke="#000080" stroke-width="0.35"><text x="-9.73" y="0">0</text></g><g transform="translate(480.15 160.07) scale(1 1.04)" fill="#fff" font-size="35" stroke="#000080" stroke-width="0.35"><text x="-9.73" y="0">0</text></g><g transform="translate(529.87 160.07) scale(1 1.04)" fill="#fff" font-size="35" stroke="#000080" stroke-width="0.35"><text x="-9.73" y="0">0</text></g><g transform="translate(579.59 160.07) scale(1 1.04)" fill="#fff" font-size="35" stroke="#000080" stroke-width="0.35"><text x="-9.73" y="0">0</text></g><g transform="translate(629.31 160.07) scale(1 1.04)" fill="#fff" font-size="35" stroke="#000080" stroke-width="0.35"><text x="-9.73" y="0">0</text></g><g transform="translate(679.03 160.07) scale(1 1.04)" fill="#fff" font-size="35" stroke="#001664" stroke-width="0.35"><use href="#one" transform="translate(-9.73 0) scale(35 -35)" stroke-width="0.0100"/></g><g transform="translate(728.75 160.07) scale(1 1.04)" fill="#fff" font-size="35" stroke="#001664" stroke-width="0.35"><use href="#one" transform="translate(-9.73 0) scale(35 -35)" stroke-width="0.0100"/></g><g transform="translate(778.47 160.07) scale(1 1.04)" fill="#fff" font-size="35" stroke="#000080" stroke-width="0.35"><text x="-9.73" y="0">0</text></g><g transform="translate(828.19 160.07) scale(1 1.04)" fill="#fff" font-size="35" stroke="#000080" stroke-width="0.35"><text x="-9.73" y="0">0</text></g><g transform="translate(877.91 160.07) scale(1 1.04)" fill="#fff" font-size="35" stroke="#000080" stroke-width="0.35"><text x="-9.73" y="0">0</text></g><g transform="translate(927.63 160.07) scale(1 1.04)" fill="#fff" font-size="35" stroke="#000080" stroke-width="0.35"><text x="-9.73" y="0">0</text></g><g transform="translate(977.35 160.07) scale(1 1.04)" fill="#fff" font-size="35" stroke="#000080" stroke-width="0.35"><text x="-9.73" y="0">0</text></g><g transform="translate(1027.07 160.07) scale(1 1.04)" fill="#fff" font-size="35" stroke="#000080" stroke-width="0.35"><text x="-9.73" y="0">0</text></g><g transform="translate(1076.79 160.07) scale(1 1.04)" fill="#fff" font-size="35" stroke="#000080" stroke-width="0.35"><text x="-9.73" y="0">0</text></g><g transform="translate(1126.51 160.07) scale(1 1.04)" fill="#fff" font-size="35" stroke="#000080" stroke-width="0.35"><text x="-9.73" y="0">0</text></g><g transform="translate(1176.23 160.07) scale(1 1.04)" fill="#fff" font-size="35" stroke="#000080" stroke-width="0.35"><text x="-9.73" y="0">0</text></g><g transform="translate(181.83 209.79) scale(1 1.04)" fill="#fff" font-size="35" stroke="#001664" stroke-width="0.35"><use href="#one" transform="translate(-9.73 0) scale(35 -35)" stroke-width="0.0100"/></g><g transform="translate(231.55 209.79) scale(1 1.04)" fill="#fff" font-size="35" stroke="#000080" stroke-width="0.35"><text x="-9.73" y="0">0</text></g><g transform="translate(281.27 209.79) scale(1 1.04)" fill="#fff" font-size="35" stroke="#a439fd" stroke-width="0.35"><text x="-19.47" y="0">6</text><text x="0.00" y="0">7</text></g><g transform="translate(330.99 209.79) scale(1 1.04)" fill="#fff" font-size="35" stroke="#000080" stroke-width="0.35"><text x="-9.73" y="0">0</text></g><g transform="translate(380.71 209.79) scale(1 1.04)" fill="#fff" font-size="35" stroke="#000080" stroke-width="0.35"><text x="-9.73" y="0">0</text></g><g transform="translate(430.43 209.79) scale(1 1.04)" fill="#fff" font-size="35" stroke="#000080" stroke-width="0.35"><text x="-9.73" y="0">0</text></g><g transform="translate(480.15 209.79) scale(1 1.04)" fill="#fff" font-size="35" stroke="#002c48" stroke-width="0.35"><text x="-9.73" y="0">2</text></g><g transform="translate(529.87 209.79) scale(1 1.04)" fill="#fff" font-size="35" stroke="#000080" stroke-width="0.35"><text x="-9.73" y="0">0</text></g><g transform="translate(579.59 209.79) scale(1 1.04)" fill="#fff" font-size="35" stroke="#000080" stroke-width="0.35"><text x="-9.73" y="0">0</text></g><g transform="translate(629.31 209.79) scale(1 1.04)" fill="#fff" font-size="35" stroke="#000080" stroke-width="0.35"><text x="-9.73" y="0">0</text></g><g transform="translate(679.03 209.79) scale(1 1.04)" fill="#fff" font-size="35" stroke="#000080" stroke-width="0.35"><text x="-9.73" y="0">0</text></g><g transform="translate(728.75 209.79) scale(1 1.04)" fill="#fff" font-size="35" stroke="#000080" stroke-width="0.35"><text x="-9.73" y="0">0</text></g><g transform="translate(778.47 209.79) scale(1 1.04)" fill="#fff" font-size="35" stroke="#000080" stroke-width="0.35"><text x="-9.73" y="0">0</text></g><g transform="translate(828.19 209.79) scale(1 1.04)" fill="#fff" font-size="35" stroke="#000080" stroke-width="0.35"><text x="-9.73" y="0">0</text></g><g transform="translate(877.91 209.79) scale(1 1.04)" fill="#fff" font-size="35" stroke="#000080" stroke-width="0.35"><text x="-9.73" y="0">0</text></g><g transform="translate(927.63 209.79) scale(1 1.04)" fill="#fff" font-size="35" stroke="#001664" stroke-width="0.35"><use href="#one" transform="translate(-9.73 0) scale(35 -35)" stroke-width="0.0100"/></g><g transform="translate(977.35 209.79) scale(1 1.04)" fill="#fff" font-size="35" stroke="#000080" stroke-width="0.35"><text x="-9.73" y="0">0</text></g><g transform="translate(1027.07 209.79) scale(1 1.04)" fill="#fff" font-size="35" stroke="#001664" stroke-width="0.35"><use href="#one" transform="translate(-9.73 0) scale(35 -35)" stroke-width="0.0100"/></g><g transform="translate(1076.79 209.79) scale(1 1.04)" fill="#fff" font-size="35" stroke="#000080" stroke-width="0.35"><text x="-9.73" y="0">0</text></g><g transform="translate(1126.51 209.79) scale(1 1.04)" fill="#fff" font-size="35" stroke="#000080" stroke-width="0.35"><text x="-9.73" y="0">0</text></g><g transform="translate(1176.23 209.79) scale(1 1.04)" fill="#fff" font-size="35" stroke="#001664" stroke-width="0.35"><use href="#one" transform="translate(-9.73 0) scale(35 -35)" stroke-width="0.0100"/></g><g transform="translate(181.83 259.51) scale(1 1.04)" fill="#fff" font-size="35" stroke="#000080" stroke-width="0.35"><text x="-9.73" y="0">0</text></g><g transform="translate(231.55 259.51) scale(1 1.04)" fill="#fff" font-size="35" stroke="#000080" stroke-width="0.35"><text x="-9.73" y="0">0</text></g><g transform="translate(281.27 259.51) scale(1 1.04)" fill="#fff" font-size="35" stroke="#000080" stroke-width="0.35"><text x="-9.73" y="0">0</text></g><g transform="translate(330.99 259.51) scale(1 1.04)" fill="#fff" font-size="35" stroke="#da6ef2" stroke-width="0.35"><text x="-19.47" y="0">7</text><text x="0.00" y="0">0</text></g><g transform="translate(380.71 259.51) scale(1 1.04)" fill="#fff" font-size="35" stroke="#000080" stroke-width="0.35"><text x="-9.73" y="0">0</text></g><g transform="translate(430.43 259.51) scale(1 1.04)" fill="#fff" font-size="35" stroke="#000080" stroke-width="0.35"><text x="-9.73" y="0">0</text></g><g transform="translate(480.15 259.51) scale(1 1.04)" fill="#fff" font-size="35" stroke="#000080" stroke-width="0.35"><text x="-9.73" y="0">0</text></g><g transform="translate(529.87 259.51) scale(1 1.04)" fill="#fff" font-size="35" stroke="#000080" stroke-width="0.35"><text x="-9.73" y="0">0</text></g><g transform="translate(579.59 259.51) scale(1 1.04)" fill="#fff" font-size="35" stroke="#000080" stroke-width="0.35"><text x="-9.73" y="0">0</text></g><g transform="translate(629.31 259.51) scale(1 1.04)" fill="#fff" font-size="35" stroke="#000080" stroke-width="0.35"><text x="-9.73" y="0">0</text></g><g transform="translate(679.03 259.51) scale(1 1.04)" fill="#fff" font-size="35" stroke="#000080" stroke-width="0.35"><text x="-9.73" y="0">0</text></g><g transform="translate(728.75 259.51) scale(1 1.04)" fill="#fff" font-size="35" stroke="#000080" stroke-width="0.35"><text x="-9.73" y="0">0</text></g><g transform="translate(778.47 259.51) scale(1 1.04)" fill="#fff" font-size="35" stroke="#000080" stroke-width="0.35"><text x="-9.73" y="0">0</text></g><g transform="translate(828.19 259.51) scale(1 1.04)" fill="#fff" font-size="35" stroke="#000080" stroke-width="0.35"><text x="-9.73" y="0">0</text></g><g transform="translate(877.91 259.51) scale(1 1.04)" fill="#fff" font-size="35" stroke="#000080" stroke-width="0.35"><text x="-9.73" y="0">0</text></g><g transform="translate(927.63 259.51) scale(1 1.04)" fill="#fff" font-size="35" stroke="#000080" stroke-width="0.35"><text x="-9.73" y="0">0</text></g><g transform="translate(977.35 259.51) scale(1 1.04)" fill="#fff" font-size="35" stroke="#000080" stroke-width="0.35"><text x="-9.73" y="0">0</text></g><g transform="translate(1027.07 259.51) scale(1 1.04)" fill="#fff" font-size="35" stroke="#000080" stroke-width="0.35"><text x="-9.73" y="0">0</text></g><g transform="translate(1076.79 259.51) scale(1 1.04)" fill="#fff" font-size="35" stroke="#000080" stroke-width="0.35"><text x="-9.73" y="0">0</text></g><g transform="translate(1126.51 259.51) scale(1 1.04)" fill="#fff" font-size="35" stroke="#000080" stroke-width="0.35"><text x="-9.73" y="0">0</text></g><g transform="translate(1176.23 259.51) scale(1 1.04)" fill="#fff" font-size="35" stroke="#000080" stroke-width="0.35"><text x="-9.73" y="0">0</text></g><g transform="translate(181.83 309.23) scale(1 1.04)" fill="#fff" font-size="35" stroke="#000080" stroke-width="0.35"><text x="-9.73" y="0">0</text></g><g transform="translate(231.55 309.23) scale(1 1.04)" fill="#fff" font-size="35" stroke="#000080" stroke-width="0.35"><text x="-9.73" y="0">0</text></g><g transform="translate(281.27 309.23) scale(1 1.04)" fill="#fff" font-size="35" stroke="#000080" stroke-width="0.35"><text x="-9.73" y="0">0</text></g><g transform="translate(330.99 309.23) scale(1 1.04)" fill="#fff" font-size="35" stroke="#000080" stroke-width="0.35"><text x="-9.73" y="0">0</text></g><g transform="translate(380.71 309.23) scale(1 1.04)" fill="#fff" font-size="35" stroke="#ff5002" stroke-width="0.35"><text x="-19.47" y="0">5</text><text x="0.00" y="0">4</text></g><g transform="translate(430.43 309.23) scale(1 1.04)" fill="#fff" font-size="35" stroke="#000080" stroke-width="0.35"><text x="-9.73" y="0">0</text></g><g transform="translate(480.15 309.23) scale(1 1.04)" fill="#fff" font-size="35" stroke="#001664" stroke-width="0.35"><use href="#one" transform="translate(-9.73 0) scale(35 -35)" stroke-width="0.0100"/></g><g transform="translate(529.87 309.23) scale(1 1.04)" fill="#fff" font-size="35" stroke="#000080" stroke-width="0.35"><text x="-9.73" y="0">0</text></g><g transform="translate(579.59 309.23) scale(1 1.04)" fill="#fff" font-size="35" stroke="#000080" stroke-width="0.35"><text x="-9.73" y="0">0</text></g><g transform="translate(629.31 309.23) scale(1 1.04)" fill="#fff" font-size="35" stroke="#000080" stroke-width="0.35"><text x="-9.73" y="0">0</text></g><g transform="translate(679.03 309.23) scale(1 1.04)" fill="#fff" font-size="35" stroke="#000080" stroke-width="0.35"><text x="-9.73" y="0">0</text></g><g transform="translate(728.75 309.23) scale(1 1.04)" fill="#fff" font-size="35" stroke="#000080" stroke-width="0.35"><text x="-9.73" y="0">0</text></g><g transform="translate(778.47 309.23) scale(1 1.04)" fill="#fff" font-size="35" stroke="#000080" stroke-width="0.35"><text x="-9.73" y="0">0</text></g><g transform="translate(828.19 309.23) scale(1 1.04)" fill="#fff" font-size="35" stroke="#001664" stroke-width="0.35"><use href="#one" transform="translate(-9.73 0) scale(35 -35)" stroke-width="0.0100"/></g><g transform="translate(877.91 309.23) scale(1 1.04)" fill="#fff" font-size="35" stroke="#000080" stroke-width="0.35"><text x="-9.73" y="0">0</text></g><g transform="translate(927.63 309.23) scale(1 1.04)" fill="#fff" font-size="35" stroke="#000080" stroke-width="0.35"><text x="-9.73" y="0">0</text></g><g transform="translate(977.35 309.23) scale(1 1.04)" fill="#fff" font-size="35" stroke="#000080" stroke-width="0.35"><text x="-9.73" y="0">0</text></g><g transform="translate(1027.07 309.23) scale(1 1.04)" fill="#fff" font-size="35" stroke="#000080" stroke-width="0.35"><text x="-9.73" y="0">0</text></g><g transform="translate(1076.79 309.23) scale(1 1.04)" fill="#fff" font-size="35" stroke="#001664" stroke-width="0.35"><use href="#one" transform="translate(-9.73 0) scale(35 -35)" stroke-width="0.0100"/></g><g transform="translate(1126.51 309.23) scale(1 1.04)" fill="#fff" font-size="35" stroke="#000080" stroke-width="0.35"><text x="-9.73" y="0">0</text></g><g transform="translate(1176.23 309.23) scale(1 1.04)" fill="#fff" font-size="35" stroke="#000080" stroke-width="0.35"><text x="-9.73" y="0">0</text></g><g transform="translate(181.83 358.95) scale(1 1.04)" fill="#fff" font-size="35" stroke="#001664" stroke-width="0.35"><use href="#one" transform="translate(-9.73 0) scale(35 -35)" stroke-width="0.0100"/></g><g transform="translate(231.55 358.95) scale(1 1.04)" fill="#fff" font-size="35" stroke="#001664" stroke-width="0.35"><use href="#one" transform="translate(-9.73 0) scale(35 -35)" stroke-width="0.0100"/></g><g transform="translate(281.27 358.95) scale(1 1.04)" fill="#fff" font-size="35" stroke="#001664" stroke-width="0.35"><use href="#one" transform="translate(-9.73 0) scale(35 -35)" stroke-width="0.0100"/></g><g transform="translate(330.99 358.95) scale(1 1.04)" fill="#fff" font-size="35" stroke="#001664" stroke-width="0.35"><use href="#one" transform="translate(-9.73 0) scale(35 -35)" stroke-width="0.0100"/></g><g transform="translate(380.71 358.95) scale(1 1.04)" fill="#fff" font-size="35" stroke="#000080" stroke-width="0.35"><text x="-9.73" y="0">0</text></g><g transform="translate(430.43 358.95) scale(1 1.04)" fill="#fff" font-size="35" stroke="#c85cf5" stroke-width="0.35"><text x="-19.47" y="0">6</text><text x="0.00" y="0">9</text></g><g transform="translate(480.15 358.95) scale(1 1.04)" fill="#fff" font-size="35" stroke="#001664" stroke-width="0.35"><use href="#one" transform="translate(-9.73 0) scale(35 -35)" stroke-width="0.0100"/></g><g transform="translate(529.87 358.95) scale(1 1.04)" fill="#fff" font-size="35" stroke="#000080" stroke-width="0.35"><text x="-9.73" y="0">0</text></g><g transform="translate(579.59 358.95) scale(1 1.04)" fill="#fff" font-size="35" stroke="#000080" stroke-width="0.35"><text x="-9.73" y="0">0</text></g><g transform="translate(629.31 358.95) scale(1 1.04)" fill="#fff" font-size="35" stroke="#001664" stroke-width="0.35"><use href="#one" transform="translate(-9.73 0) scale(35 -35)" stroke-width="0.0100"/></g><g transform="translate(679.03 358.95) scale(1 1.04)" fill="#fff" font-size="35" stroke="#000080" stroke-width="0.35"><text x="-9.73" y="0">0</text></g><g transform="translate(728.75 358.95) scale(1 1.04)" fill="#fff" font-size="35" stroke="#000080" stroke-width="0.35"><text x="-9.73" y="0">0</text></g><g transform="translate(778.47 358.95) scale(1 1.04)" fill="#fff" font-size="35" stroke="#000080" stroke-width="0.35"><text x="-9.73" y="0">0</text></g><g transform="translate(828.19 358.95) scale(1 1.04)" fill="#fff" font-size="35" stroke="#000080" stroke-width="0.35"><text x="-9.73" y="0">0</text></g><g transform="translate(877.91 358.95) scale(1 1.04)" fill="#fff" font-size="35" stroke="#000080" stroke-width="0.35"><text x="-9.73" y="0">0</text></g><g transform="translate(927.63 358.95) scale(1 1.04)" fill="#fff" font-size="35" stroke="#000080" stroke-width="0.35"><text x="-9.73" y="0">0</text></g><g transform="translate(977.35 358.95) scale(1 1.04)" fill="#fff" font-size="35" stroke="#000080" stroke-width="0.35"><text x="-9.73" y="0">0</text></g><g transform="translate(1027.07 358.95) scale(1 1.04)" fill="#fff" font-size="35" stroke="#000080" stroke-width="0.35"><text x="-9.73" y="0">0</text></g><g transform="translate(1076.79 358.95) scale(1 1.04)" fill="#fff" font-size="35" stroke="#000080" stroke-width="0.35"><text x="-9.73" y="0">0</text></g><g transform="translate(1126.51 358.95) scale(1 1.04)" fill="#fff" font-size="35" stroke="#002c48" stroke-width="0.35"><text x="-9.73" y="0">2</text></g><g transform="translate(1176.23 358.95) scale(1 1.04)" fill="#fff" font-size="35" stroke="#000080" stroke-width="0.35"><text x="-9.73" y="0">0</text></g><g transform="translate(181.83 408.67) scale(1 1.04)" fill="#fff" font-size="35" stroke="#000080" stroke-width="0.35"><text x="-9.73" y="0">0</text></g><g transform="translate(231.55 408.67) scale(1 1.04)" fill="#fff" font-size="35" stroke="#000080" stroke-width="0.35"><text x="-9.73" y="0">0</text></g><g transform="translate(281.27 408.67) scale(1 1.04)" fill="#fff" font-size="35" stroke="#000080" stroke-width="0.35"><text x="-9.73" y="0">0</text></g><g transform="translate(330.99 408.67) scale(1 1.04)" fill="#fff" font-size="35" stroke="#000080" stroke-width="0.35"><text x="-9.73" y="0">0</text></g><g transform="translate(380.71 408.67) scale(1 1.04)" fill="#fff" font-size="35" stroke="#000080" stroke-width="0.35"><text x="-9.73" y="0">0</text></g><g transform="translate(430.43 408.67) scale(1 1.04)" fill="#fff" font-size="35" stroke="#000080" stroke-width="0.35"><text x="-9.73" y="0">0</text></g><g transform="translate(480.15 408.67) scale(1 1.04)" fill="#262626" font-size="35" stroke="#fef8fe" stroke-width="0.35"><text x="-19.47" y="0">7</text><text x="0.00" y="0">9</text></g><g transform="translate(529.87 408.67) scale(1 1.04)" fill="#fff" font-size="35" stroke="#000080" stroke-width="0.35"><text x="-9.73" y="0">0</text></g><g transform="translate(579.59 408.67) scale(1 1.04)" fill="#fff" font-size="35" stroke="#000080" stroke-width="0.35"><text x="-9.73" y="0">0</text></g><g transform="translate(629.31 408.67) scale(1 1.04)" fill="#fff" font-size="35" stroke="#000080" stroke-width="0.35"><text x="-9.73" y="0">0</text></g><g transform="translate(679.03 408.67) scale(1 1.04)" fill="#fff" font-size="35" stroke="#000080" stroke-width="0.35"><text x="-9.73" y="0">0</text></g><g transform="translate(728.75 408.67) scale(1 1.04)" fill="#fff" font-size="35" stroke="#001664" stroke-width="0.35"><use href="#one" transform="translate(-9.73 0) scale(35 -35)" stroke-width="0.0100"/></g><g transform="translate(778.47 408.67) scale(1 1.04)" fill="#fff" font-size="35" stroke="#000080" stroke-width="0.35"><text x="-9.73" y="0">0</text></g><g transform="translate(828.19 408.67) scale(1 1.04)" fill="#fff" font-size="35" stroke="#000080" stroke-width="0.35"><text x="-9.73" y="0">0</text></g><g transform="translate(877.91 408.67) scale(1 1.04)" fill="#fff" font-size="35" stroke="#000080" stroke-width="0.35"><text x="-9.73" y="0">0</text></g><g transform="translate(927.63 408.67) scale(1 1.04)" fill="#fff" font-size="35" stroke="#000080" stroke-width="0.35"><text x="-9.73" y="0">0</text></g><g transform="translate(977.35 408.67) scale(1 1.04)" fill="#fff" font-size="35" stroke="#000080" stroke-width="0.35"><text x="-9.73" y="0">0</text></g><g transform="translate(1027.07 408.67) scale(1 1.04)" fill="#fff" font-size="35" stroke="#000080" stroke-width="0.35"><text x="-9.73" y="0">0</text></g><g transform="translate(1076.79 408.67) scale(1 1.04)" fill="#fff" font-size="35" stroke="#000080" stroke-width="0.35"><text x="-9.73" y="0">0</text></g><g transform="translate(1126.51 408.67) scale(1 1.04)" fill="#fff" font-size="35" stroke="#000080" stroke-width="0.35"><text x="-9.73" y="0">0</text></g><g transform="translate(1176.23 408.67) scale(1 1.04)" fill="#fff" font-size="35" stroke="#000080" stroke-width="0.35"><text x="-9.73" y="0">0</text></g><g transform="translate(181.83 458.39) scale(1 1.04)" fill="#fff" font-size="35" stroke="#000080" stroke-width="0.35"><text x="-9.73" y="0">0</text></g><g transform="translate(231.55 458.39) scale(1 1.04)" fill="#fff" font-size="35" stroke="#000080" stroke-width="0.35"><text x="-9.73" y="0">0</text></g><g transform="translate(281.27 458.39) scale(1 1.04)" fill="#fff" font-size="35" stroke="#000080" stroke-width="0.35"><text x="-9.73" y="0">0</text></g><g transform="translate(330.99 458.39) scale(1 1.04)" fill="#fff" font-size="35" stroke="#000080" stroke-width="0.35"><text x="-9.73" y="0">0</text></g><g transform="translate(380.71 458.39) scale(1 1.04)" fill="#fff" font-size="35" stroke="#000080" stroke-width="0.35"><text x="-9.73" y="0">0</text></g><g transform="translate(430.43 458.39) scale(1 1.04)" fill="#fff" font-size="35" stroke="#000080" stroke-width="0.35"><text x="-9.73" y="0">0</text></g><g transform="translate(480.15 458.39) scale(1 1.04)" fill="#fff" font-size="35" stroke="#000080" stroke-width="0.35"><text x="-9.73" y="0">0</text></g><g transform="translate(529.87 458.39) scale(1 1.04)" fill="#fff" font-size="35" stroke="#c85cf5" stroke-width="0.35"><text x="-19.47" y="0">6</text><text x="0.00" y="0">9</text></g><g transform="translate(579.59 458.39) scale(1 1.04)" fill="#fff" font-size="35" stroke="#000080" stroke-width="0.35"><text x="-9.73" y="0">0</text></g><g transform="translate(629.31 458.39) scale(1 1.04)" fill="#fff" font-size="35" stroke="#000080" stroke-width="0.35"><text x="-9.73" y="0">0</text></g><g transform="translate(679.03 458.39) scale(1 1.04)" fill="#fff" font-size="35" stroke="#000080" stroke-width="0.35"><text x="-9.73" y="0">0</text></g><g transform="translate(728.75 458.39) scale(1 1.04)" fill="#fff" font-size="35" stroke="#000080" stroke-width="0.35"><text x="-9.73" y="0">0</text></g><g transform="translate(778.47 458.39) scale(1 1.04)" fill="#fff" font-size="35" stroke="#000080" stroke-width="0.35"><text x="-9.73" y="0">0</text></g><g transform="translate(828.19 458.39) scale(1 1.04)" fill="#fff" font-size="35" stroke="#000080" stroke-width="0.35"><text x="-9.73" y="0">0</text></g><g transform="translate(877.91 458.39) scale(1 1.04)" fill="#fff" font-size="35" stroke="#000080" stroke-width="0.35"><text x="-9.73" y="0">0</text></g><g transform="translate(927.63 458.39) scale(1 1.04)" fill="#fff" font-size="35" stroke="#000080" stroke-width="0.35"><text x="-9.73" y="0">0</text></g><g transform="translate(977.35 458.39) scale(1 1.04)" fill="#fff" font-size="35" stroke="#000080" stroke-width="0.35"><text x="-9.73" y="0">0</text></g><g transform="translate(1027.07 458.39) scale(1 1.04)" fill="#fff" font-size="35" stroke="#000080" stroke-width="0.35"><text x="-9.73" y="0">0</text></g><g transform="translate(1076.79 458.39) scale(1 1.04)" fill="#fff" font-size="35" stroke="#000080" stroke-width="0.35"><text x="-9.73" y="0">0</text></g><g transform="translate(1126.51 458.39) scale(1 1.04)" fill="#fff" font-size="35" stroke="#000080" stroke-width="0.35"><text x="-9.73" y="0">0</text></g><g transform="translate(1176.23 458.39) scale(1 1.04)" fill="#fff" font-size="35" stroke="#000080" stroke-width="0.35"><text x="-9.73" y="0">0</text></g><g transform="translate(181.83 508.11) scale(1 1.04)" fill="#fff" font-size="35" stroke="#000080" stroke-width="0.35"><text x="-9.73" y="0">0</text></g><g transform="translate(231.55 508.11) scale(1 1.04)" fill="#fff" font-size="35" stroke="#000080" stroke-width="0.35"><text x="-9.73" y="0">0</text></g><g transform="translate(281.27 508.11) scale(1 1.04)" fill="#fff" font-size="35" stroke="#000080" stroke-width="0.35"><text x="-9.73" y="0">0</text></g><g transform="translate(330.99 508.11) scale(1 1.04)" fill="#fff" font-size="35" stroke="#000080" stroke-width="0.35"><text x="-9.73" y="0">0</text></g><g transform="translate(380.71 508.11) scale(1 1.04)" fill="#fff" font-size="35" stroke="#000080" stroke-width="0.35"><text x="-9.73" y="0">0</text></g><g transform="translate(430.43 508.11) scale(1 1.04)" fill="#fff" font-size="35" stroke="#000080" stroke-width="0.35"><text x="-9.73" y="0">0</text></g><g transform="translate(480.15 508.11) scale(1 1.04)" fill="#fff" font-size="35" stroke="#000080" stroke-width="0.35"><text x="-9.73" y="0">0</text></g><g transform="translate(529.87 508.11) scale(1 1.04)" fill="#fff" font-size="35" stroke="#000080" stroke-width="0.35"><text x="-9.73" y="0">0</text></g><g transform="translate(579.59 508.11) scale(1 1.04)" fill="#fff" font-size="35" stroke="#a439fd" stroke-width="0.35"><text x="-19.47" y="0">6</text><text x="0.00" y="0">7</text></g><g transform="translate(629.31 508.11) scale(1 1.04)" fill="#fff" font-size="35" stroke="#000080" stroke-width="0.35"><text x="-9.73" y="0">0</text></g><g transform="translate(679.03 508.11) scale(1 1.04)" fill="#fff" font-size="35" stroke="#000080" stroke-width="0.35"><text x="-9.73" y="0">0</text></g><g transform="translate(728.75 508.11) scale(1 1.04)" fill="#fff" font-size="35" stroke="#000080" stroke-width="0.35"><text x="-9.73" y="0">0</text></g><g transform="translate(778.47 508.11) scale(1 1.04)" fill="#fff" font-size="35" stroke="#000080" stroke-width="0.35"><text x="-9.73" y="0">0</text></g><g transform="translate(828.19 508.11) scale(1 1.04)" fill="#fff" font-size="35" stroke="#000080" stroke-width="0.35"><text x="-9.73" y="0">0</text></g><g transform="translate(877.91 508.11) scale(1 1.04)" fill="#fff" font-size="35" stroke="#000080" stroke-width="0.35"><text x="-9.73" y="0">0</text></g><g transform="translate(927.63 508.11) scale(1 1.04)" fill="#fff" font-size="35" stroke="#000080" stroke-width="0.35"><text x="-9.73" y="0">0</text></g><g transform="translate(977.35 508.11) scale(1 1.04)" fill="#fff" font-size="35" stroke="#000080" stroke-width="0.35"><text x="-9.73" y="0">0</text></g><g transform="translate(1027.07 508.11) scale(1 1.04)" fill="#fff" font-size="35" stroke="#000080" stroke-width="0.35"><text x="-9.73" y="0">0</text></g><g transform="translate(1076.79 508.11) scale(1 1.04)" fill="#fff" font-size="35" stroke="#000080" stroke-width="0.35"><text x="-9.73" y="0">0</text></g><g transform="translate(1126.51 508.11) scale(1 1.04)" fill="#fff" font-size="35" stroke="#000080" stroke-width="0.35"><text x="-9.73" y="0">0</text></g><g transform="translate(1176.23 508.11) scale(1 1.04)" fill="#fff" font-size="35" stroke="#000080" stroke-width="0.35"><text x="-9.73" y="0">0</text></g><g transform="translate(181.83 557.83) scale(1 1.04)" fill="#fff" font-size="35" stroke="#000080" stroke-width="0.35"><text x="-9.73" y="0">0</text></g><g transform="translate(231.55 557.83) scale(1 1.04)" fill="#fff" font-size="35" stroke="#000080" stroke-width="0.35"><text x="-9.73" y="0">0</text></g><g transform="translate(281.27 557.83) scale(1 1.04)" fill="#fff" font-size="35" stroke="#000080" stroke-width="0.35"><text x="-9.73" y="0">0</text></g><g transform="translate(330.99 557.83) scale(1 1.04)" fill="#fff" font-size="35" stroke="#000080" stroke-width="0.35"><text x="-9.73" y="0">0</text></g><g transform="translate(380.71 557.83) scale(1 1.04)" fill="#fff" font-size="35" stroke="#000080" stroke-width="0.35"><text x="-9.73" y="0">0</text></g><g transform="translate(430.43 557.83) scale(1 1.04)" fill="#fff" font-size="35" stroke="#000080" stroke-width="0.35"><text x="-9.73" y="0">0</text></g><g transform="translate(480.15 557.83) scale(1 1.04)" fill="#fff" font-size="35" stroke="#000080" stroke-width="0.35"><text x="-9.73" y="0">0</text></g><g transform="translate(529.87 557.83) scale(1 1.04)" fill="#fff" font-size="35" stroke="#000080" stroke-width="0.35"><text x="-9.73" y="0">0</text></g><g transform="translate(579.59 557.83) scale(1 1.04)" fill="#fff" font-size="35" stroke="#002c48" stroke-width="0.35"><text x="-9.73" y="0">2</text></g><g transform="translate(629.31 557.83) scale(1 1.04)" fill="#fff" font-size="35" stroke="#c85cf5" stroke-width="0.35"><text x="-19.47" y="0">6</text><text x="0.00" y="0">9</text></g><g transform="translate(679.03 557.83) scale(1 1.04)" fill="#fff" font-size="35" stroke="#000080" stroke-width="0.35"><text x="-9.73" y="0">0</text></g><g transform="translate(728.75 557.83) scale(1 1.04)" fill="#fff" font-size="35" stroke="#000080" stroke-width="0.35"><text x="-9.73" y="0">0</text></g><g transform="translate(778.47 557.83) scale(1 1.04)" fill="#fff" font-size="35" stroke="#000080" stroke-width="0.35"><text x="-9.73" y="0">0</text></g><g transform="translate(828.19 557.83) scale(1 1.04)" fill="#fff" font-size="35" stroke="#000080" stroke-width="0.35"><text x="-9.73" y="0">0</text></g><g transform="translate(877.91 557.83) scale(1 1.04)" fill="#fff" font-size="35" stroke="#000080" stroke-width="0.35"><text x="-9.73" y="0">0</text></g><g transform="translate(927.63 557.83) scale(1 1.04)" fill="#fff" font-size="35" stroke="#000080" stroke-width="0.35"><text x="-9.73" y="0">0</text></g><g transform="translate(977.35 557.83) scale(1 1.04)" fill="#fff" font-size="35" stroke="#000080" stroke-width="0.35"><text x="-9.73" y="0">0</text></g><g transform="translate(1027.07 557.83) scale(1 1.04)" fill="#fff" font-size="35" stroke="#000080" stroke-width="0.35"><text x="-9.73" y="0">0</text></g><g transform="translate(1076.79 557.83) scale(1 1.04)" fill="#fff" font-size="35" stroke="#000080" stroke-width="0.35"><text x="-9.73" y="0">0</text></g><g transform="translate(1126.51 557.83) scale(1 1.04)" fill="#fff" font-size="35" stroke="#000080" stroke-width="0.35"><text x="-9.73" y="0">0</text></g><g transform="translate(1176.23 557.83) scale(1 1.04)" fill="#fff" font-size="35" stroke="#000080" stroke-width="0.35"><text x="-9.73" y="0">0</text></g><g transform="translate(181.83 607.55) scale(1 1.04)" fill="#fff" font-size="35" stroke="#000080" stroke-width="0.35"><text x="-9.73" y="0">0</text></g><g transform="translate(231.55 607.55) scale(1 1.04)" fill="#fff" font-size="35" stroke="#000080" stroke-width="0.35"><text x="-9.73" y="0">0</text></g><g transform="translate(281.27 607.55) scale(1 1.04)" fill="#fff" font-size="35" stroke="#000080" stroke-width="0.35"><text x="-9.73" y="0">0</text></g><g transform="translate(330.99 607.55) scale(1 1.04)" fill="#fff" font-size="35" stroke="#000080" stroke-width="0.35"><text x="-9.73" y="0">0</text></g><g transform="translate(380.71 607.55) scale(1 1.04)" fill="#fff" font-size="35" stroke="#000080" stroke-width="0.35"><text x="-9.73" y="0">0</text></g><g transform="translate(430.43 607.55) scale(1 1.04)" fill="#fff" font-size="35" stroke="#000080" stroke-width="0.35"><text x="-9.73" y="0">0</text></g><g transform="translate(480.15 607.55) scale(1 1.04)" fill="#fff" font-size="35" stroke="#000080" stroke-width="0.35"><text x="-9.73" y="0">0</text></g><g transform="translate(529.87 607.55) scale(1 1.04)" fill="#fff" font-size="35" stroke="#000080" stroke-width="0.35"><text x="-9.73" y="0">0</text></g><g transform="translate(579.59 607.55) scale(1 1.04)" fill="#fff" font-size="35" stroke="#000080" stroke-width="0.35"><text x="-9.73" y="0">0</text></g><g transform="translate(629.31 607.55) scale(1 1.04)" fill="#fff" font-size="35" stroke="#000080" stroke-width="0.35"><text x="-9.73" y="0">0</text></g><g transform="translate(679.03 607.55) scale(1 1.04)" fill="#fff" font-size="35" stroke="#da6ef2" stroke-width="0.35"><text x="-19.47" y="0">7</text><text x="0.00" y="0">0</text></g><g transform="translate(728.75 607.55) scale(1 1.04)" fill="#fff" font-size="35" stroke="#000080" stroke-width="0.35"><text x="-9.73" y="0">0</text></g><g transform="translate(778.47 607.55) scale(1 1.04)" fill="#fff" font-size="35" stroke="#001664" stroke-width="0.35"><use href="#one" transform="translate(-9.73 0) scale(35 -35)" stroke-width="0.0100"/></g><g transform="translate(828.19 607.55) scale(1 1.04)" fill="#fff" font-size="35" stroke="#000080" stroke-width="0.35"><text x="-9.73" y="0">0</text></g><g transform="translate(877.91 607.55) scale(1 1.04)" fill="#fff" font-size="35" stroke="#000080" stroke-width="0.35"><text x="-9.73" y="0">0</text></g><g transform="translate(927.63 607.55) scale(1 1.04)" fill="#fff" font-size="35" stroke="#000080" stroke-width="0.35"><text x="-9.73" y="0">0</text></g><g transform="translate(977.35 607.55) scale(1 1.04)" fill="#fff" font-size="35" stroke="#000080" stroke-width="0.35"><text x="-9.73" y="0">0</text></g><g transform="translate(1027.07 607.55) scale(1 1.04)" fill="#fff" font-size="35" stroke="#000080" stroke-width="0.35"><text x="-9.73" y="0">0</text></g><g transform="translate(1076.79 607.55) scale(1 1.04)" fill="#fff" font-size="35" stroke="#000080" stroke-width="0.35"><text x="-9.73" y="0">0</text></g><g transform="translate(1126.51 607.55) scale(1 1.04)" fill="#fff" font-size="35" stroke="#000080" stroke-width="0.35"><text x="-9.73" y="0">0</text></g><g transform="translate(1176.23 607.55) scale(1 1.04)" fill="#fff" font-size="35" stroke="#000080" stroke-width="0.35"><text x="-9.73" y="0">0</text></g><g transform="translate(181.83 657.27) scale(1 1.04)" fill="#fff" font-size="35" stroke="#000080" stroke-width="0.35"><text x="-9.73" y="0">0</text></g><g transform="translate(231.55 657.27) scale(1 1.04)" fill="#fff" font-size="35" stroke="#000080" stroke-width="0.35"><text x="-9.73" y="0">0</text></g><g transform="translate(281.27 657.27) scale(1 1.04)" fill="#fff" font-size="35" stroke="#000080" stroke-width="0.35"><text x="-9.73" y="0">0</text></g><g transform="translate(330.99 657.27) scale(1 1.04)" fill="#fff" font-size="35" stroke="#000080" stroke-width="0.35"><text x="-9.73" y="0">0</text></g><g transform="translate(380.71 657.27) scale(1 1.04)" fill="#fff" font-size="35" stroke="#000080" stroke-width="0.35"><text x="-9.73" y="0">0</text></g><g transform="translate(430.43 657.27) scale(1 1.04)" fill="#fff" font-size="35" stroke="#000080" stroke-width="0.35"><text x="-9.73" y="0">0</text></g><g transform="translate(480.15 657.27) scale(1 1.04)" fill="#fff" font-size="35" stroke="#000080" stroke-width="0.35"><text x="-9.73" y="0">0</text></g><g transform="translate(529.87 657.27) scale(1 1.04)" fill="#fff" font-size="35" stroke="#000080" stroke-width="0.35"><text x="-9.73" y="0">0</text></g><g transform="translate(579.59 657.27) scale(1 1.04)" fill="#fff" font-size="35" stroke="#000080" stroke-width="0.35"><text x="-9.73" y="0">0</text></g><g transform="translate(629.31 657.27) scale(1 1.04)" fill="#fff" font-size="35" stroke="#000080" stroke-width="0.35"><text x="-9.73" y="0">0</text></g><g transform="translate(679.03 657.27) scale(1 1.04)" fill="#fff" font-size="35" stroke="#000080" stroke-width="0.35"><text x="-9.73" y="0">0</text></g><g transform="translate(728.75 657.27) scale(1 1.04)" fill="#262626" font-size="35" stroke="#fceafc" stroke-width="0.35"><text x="-19.47" y="0">7</text><text x="0.00" y="0">8</text></g><g transform="translate(778.47 657.27) scale(1 1.04)" fill="#fff" font-size="35" stroke="#000080" stroke-width="0.35"><text x="-9.73" y="0">0</text></g><g transform="translate(828.19 657.27) scale(1 1.04)" fill="#fff" font-size="35" stroke="#000080" stroke-width="0.35"><text x="-9.73" y="0">0</text></g><g transform="translate(877.91 657.27) scale(1 1.04)" fill="#fff" font-size="35" stroke="#000080" stroke-width="0.35"><text x="-9.73" y="0">0</text></g><g transform="translate(927.63 657.27) scale(1 1.04)" fill="#fff" font-size="35" stroke="#000080" stroke-width="0.35"><text x="-9.73" y="0">0</text></g><g transform="translate(977.35 657.27) scale(1 1.04)" fill="#fff" font-size="35" stroke="#000080" stroke-width="0.35"><text x="-9.73" y="0">0</text></g><g transform="translate(1027.07 657.27) scale(1 1.04)" fill="#fff" font-size="35" stroke="#000080" stroke-width="0.35"><text x="-9.73" y="0">0</text></g><g transform="translate(1076.79 657.27) scale(1 1.04)" fill="#fff" font-size="35" stroke="#000080" stroke-width="0.35"><text x="-9.73" y="0">0</text></g><g transform="translate(1126.51 657.27) scale(1 1.04)" fill="#fff" font-size="35" stroke="#000080" stroke-width="0.35"><text x="-9.73" y="0">0</text></g><g transform="translate(1176.23 657.27) scale(1 1.04)" fill="#fff" font-size="35" stroke="#000080" stroke-width="0.35"><text x="-9.73" y="0">0</text></g><g transform="translate(181.83 706.99) scale(1 1.04)" fill="#fff" font-size="35" stroke="#000080" stroke-width="0.35"><text x="-9.73" y="0">0</text></g><g transform="translate(231.55 706.99) scale(1 1.04)" fill="#fff" font-size="35" stroke="#000080" stroke-width="0.35"><text x="-9.73" y="0">0</text></g><g transform="translate(281.27 706.99) scale(1 1.04)" fill="#fff" font-size="35" stroke="#000080" stroke-width="0.35"><text x="-9.73" y="0">0</text></g><g transform="translate(330.99 706.99) scale(1 1.04)" fill="#fff" font-size="35" stroke="#000080" stroke-width="0.35"><text x="-9.73" y="0">0</text></g><g transform="translate(380.71 706.99) scale(1 1.04)" fill="#fff" font-size="35" stroke="#000080" stroke-width="0.35"><text x="-9.73" y="0">0</text></g><g transform="translate(430.43 706.99) scale(1 1.04)" fill="#fff" font-size="35" stroke="#000080" stroke-width="0.35"><text x="-9.73" y="0">0</text></g><g transform="translate(480.15 706.99) scale(1 1.04)" fill="#fff" font-size="35" stroke="#000080" stroke-width="0.35"><text x="-9.73" y="0">0</text></g><g transform="translate(529.87 706.99) scale(1 1.04)" fill="#fff" font-size="35" stroke="#000080" stroke-width="0.35"><text x="-9.73" y="0">0</text></g><g transform="translate(579.59 706.99) scale(1 1.04)" fill="#fff" font-size="35" stroke="#000080" stroke-width="0.35"><text x="-9.73" y="0">0</text></g><g transform="translate(629.31 706.99) scale(1 1.04)" fill="#fff" font-size="35" stroke="#000080" stroke-width="0.35"><text x="-9.73" y="0">0</text></g><g transform="translate(679.03 706.99) scale(1 1.04)" fill="#fff" font-size="35" stroke="#000080" stroke-width="0.35"><text x="-9.73" y="0">0</text></g><g transform="translate(728.75 706.99) scale(1 1.04)" fill="#fff" font-size="35" stroke="#000080" stroke-width="0.35"><text x="-9.73" y="0">0</text></g><g transform="translate(778.47 706.99) scale(1 1.04)" fill="#262626" font-size="35" stroke="#ee92f1" stroke-width="0.35"><text x="-19.47" y="0">7</text><text x="0.00" y="0">2</text></g><g transform="translate(828.19 706.99) scale(1 1.04)" fill="#fff" font-size="35" stroke="#000080" stroke-width="0.35"><text x="-9.73" y="0">0</text></g><g transform="translate(877.91 706.99) scale(1 1.04)" fill="#fff" font-size="35" stroke="#000080" stroke-width="0.35"><text x="-9.73" y="0">0</text></g><g transform="translate(927.63 706.99) scale(1 1.04)" fill="#fff" font-size="35" stroke="#000080" stroke-width="0.35"><text x="-9.73" y="0">0</text></g><g transform="translate(977.35 706.99) scale(1 1.04)" fill="#fff" font-size="35" stroke="#000080" stroke-width="0.35"><text x="-9.73" y="0">0</text></g><g transform="translate(1027.07 706.99) scale(1 1.04)" fill="#fff" font-size="35" stroke="#000080" stroke-width="0.35"><text x="-9.73" y="0">0</text></g><g transform="translate(1076.79 706.99) scale(1 1.04)" fill="#fff" font-size="35" stroke="#000080" stroke-width="0.35"><text x="-9.73" y="0">0</text></g><g transform="translate(1126.51 706.99) scale(1 1.04)" fill="#fff" font-size="35" stroke="#000080" stroke-width="0.35"><text x="-9.73" y="0">0</text></g><g transform="translate(1176.23 706.99) scale(1 1.04)" fill="#fff" font-size="35" stroke="#000080" stroke-width="0.35"><text x="-9.73" y="0">0</text></g><g transform="translate(181.83 756.71) scale(1 1.04)" fill="#fff" font-size="35" stroke="#000080" stroke-width="0.35"><text x="-9.73" y="0">0</text></g><g transform="translate(231.55 756.71) scale(1 1.04)" fill="#fff" font-size="35" stroke="#000080" stroke-width="0.35"><text x="-9.73" y="0">0</text></g><g transform="translate(281.27 756.71) scale(1 1.04)" fill="#fff" font-size="35" stroke="#000080" stroke-width="0.35"><text x="-9.73" y="0">0</text></g><g transform="translate(330.99 756.71) scale(1 1.04)" fill="#fff" font-size="35" stroke="#000080" stroke-width="0.35"><text x="-9.73" y="0">0</text></g><g transform="translate(380.71 756.71) scale(1 1.04)" fill="#fff" font-size="35" stroke="#000080" stroke-width="0.35"><text x="-9.73" y="0">0</text></g><g transform="translate(430.43 756.71) scale(1 1.04)" fill="#fff" font-size="35" stroke="#000080" stroke-width="0.35"><text x="-9.73" y="0">0</text></g><g transform="translate(480.15 756.71) scale(1 1.04)" fill="#fff" font-size="35" stroke="#000080" stroke-width="0.35"><text x="-9.73" y="0">0</text></g><g transform="translate(529.87 756.71) scale(1 1.04)" fill="#fff" font-size="35" stroke="#000080" stroke-width="0.35"><text x="-9.73" y="0">0</text></g><g transform="translate(579.59 756.71) scale(1 1.04)" fill="#fff" font-size="35" stroke="#000080" stroke-width="0.35"><text x="-9.73" y="0">0</text></g><g transform="translate(629.31 756.71) scale(1 1.04)" fill="#fff" font-size="35" stroke="#000080" stroke-width="0.35"><text x="-9.73" y="0">0</text></g><g transform="translate(679.03 756.71) scale(1 1.04)" fill="#fff" font-size="35" stroke="#000080" stroke-width="0.35"><text x="-9.73" y="0">0</text></g><g transform="translate(728.75 756.71) scale(1 1.04)" fill="#fff" font-size="35" stroke="#000080" stroke-width="0.35"><text x="-9.73" y="0">0</text></g><g transform="translate(778.47 756.71) scale(1 1.04)" fill="#fff" font-size="35" stroke="#000080" stroke-width="0.35"><text x="-9.73" y="0">0</text></g><g transform="translate(828.19 756.71) scale(1 1.04)" fill="#fff" font-size="35" stroke="#a439fd" stroke-width="0.35"><text x="-19.47" y="0">6</text><text x="0.00" y="0">7</text></g><g transform="translate(877.91 756.71) scale(1 1.04)" fill="#fff" font-size="35" stroke="#000080" stroke-width="0.35"><text x="-9.73" y="0">0</text></g><g transform="translate(927.63 756.71) scale(1 1.04)" fill="#fff" font-size="35" stroke="#000080" stroke-width="0.35"><text x="-9.73" y="0">0</text></g><g transform="translate(977.35 756.71) scale(1 1.04)" fill="#fff" font-size="35" stroke="#000080" stroke-width="0.35"><text x="-9.73" y="0">0</text></g><g transform="translate(1027.07 756.71) scale(1 1.04)" fill="#fff" font-size="35" stroke="#000080" stroke-width="0.35"><text x="-9.73" y="0">0</text></g><g transform="translate(1076.79 756.71) scale(1 1.04)" fill="#fff" font-size="35" stroke="#000080" stroke-width="0.35"><text x="-9.73" y="0">0</text></g><g transform="translate(1126.51 756.71) scale(1 1.04)" fill="#fff" font-size="35" stroke="#001664" stroke-width="0.35"><use href="#one" transform="translate(-9.73 0) scale(35 -35)" stroke-width="0.0100"/></g><g transform="translate(1176.23 756.71) scale(1 1.04)" fill="#fff" font-size="35" stroke="#000080" stroke-width="0.35"><text x="-9.73" y="0">0</text></g><g transform="translate(181.83 806.43) scale(1 1.04)" fill="#fff" font-size="35" stroke="#000080" stroke-width="0.35"><text x="-9.73" y="0">0</text></g><g transform="translate(231.55 806.43) scale(1 1.04)" fill="#fff" font-size="35" stroke="#000080" stroke-width="0.35"><text x="-9.73" y="0">0</text></g><g transform="translate(281.27 806.43) scale(1 1.04)" fill="#fff" font-size="35" stroke="#000080" stroke-width="0.35"><text x="-9.73" y="0">0</text></g><g transform="translate(330.99 806.43) scale(1 1.04)" fill="#fff" font-size="35" stroke="#000080" stroke-width="0.35"><text x="-9.73" y="0">0</text></g><g transform="translate(380.71 806.43) scale(1 1.04)" fill="#fff" font-size="35" stroke="#000080" stroke-width="0.35"><text x="-9.73" y="0">0</text></g><g transform="translate(430.43 806.43) scale(1 1.04)" fill="#fff" font-size="35" stroke="#000080" stroke-width="0.35"><text x="-9.73" y="0">0</text></g><g transform="translate(480.15 806.43) scale(1 1.04)" fill="#fff" font-size="35" stroke="#000080" stroke-width="0.35"><text x="-9.73" y="0">0</text></g><g transform="translate(529.87 806.43) scale(1 1.04)" fill="#fff" font-size="35" stroke="#000080" stroke-width="0.35"><text x="-9.73" y="0">0</text></g><g transform="translate(579.59 806.43) scale(1 1.04)" fill="#fff" font-size="35" stroke="#000080" stroke-width="0.35"><text x="-9.73" y="0">0</text></g><g transform="translate(629.31 806.43) scale(1 1.04)" fill="#fff" font-size="35" stroke="#001664" stroke-width="0.35"><use href="#one" transform="translate(-9.73 0) scale(35 -35)" stroke-width="0.0100"/></g><g transform="translate(679.03 806.43) scale(1 1.04)" fill="#fff" font-size="35" stroke="#000080" stroke-width="0.35"><text x="-9.73" y="0">0</text></g><g transform="translate(728.75 806.43) scale(1 1.04)" fill="#fff" font-size="35" stroke="#000080" stroke-width="0.35"><text x="-9.73" y="0">0</text></g><g transform="translate(778.47 806.43) scale(1 1.04)" fill="#fff" font-size="35" stroke="#000080" stroke-width="0.35"><text x="-9.73" y="0">0</text></g><g transform="translate(828.19 806.43) scale(1 1.04)" fill="#fff" font-size="35" stroke="#000080" stroke-width="0.35"><text x="-9.73" y="0">0</text></g><g transform="translate(877.91 806.43) scale(1 1.04)" fill="#fff" font-size="35" stroke="#ff009f" stroke-width="0.35"><text x="-19.47" y="0">6</text><use href="#one" transform="translate(0.00 0) scale(35 -35)" stroke-width="0.0100"/></g><g transform="translate(927.63 806.43) scale(1 1.04)" fill="#fff" font-size="35" stroke="#000080" stroke-width="0.35"><text x="-9.73" y="0">0</text></g><g transform="translate(977.35 806.43) scale(1 1.04)" fill="#fff" font-size="35" stroke="#000080" stroke-width="0.35"><text x="-9.73" y="0">0</text></g><g transform="translate(1027.07 806.43) scale(1 1.04)" fill="#fff" font-size="35" stroke="#000080" stroke-width="0.35"><text x="-9.73" y="0">0</text></g><g transform="translate(1076.79 806.43) scale(1 1.04)" fill="#fff" font-size="35" stroke="#000080" stroke-width="0.35"><text x="-9.73" y="0">0</text></g><g transform="translate(1126.51 806.43) scale(1 1.04)" fill="#fff" font-size="35" stroke="#001664" stroke-width="0.35"><use href="#one" transform="translate(-9.73 0) scale(35 -35)" stroke-width="0.0100"/></g><g transform="translate(1176.23 806.43) scale(1 1.04)" fill="#fff" font-size="35" stroke="#000080" stroke-width="0.35"><text x="-9.73" y="0">0</text></g><g transform="translate(181.83 856.15) scale(1 1.04)" fill="#fff" font-size="35" stroke="#000080" stroke-width="0.35"><text x="-9.73" y="0">0</text></g><g transform="translate(231.55 856.15) scale(1 1.04)" fill="#fff" font-size="35" stroke="#000080" stroke-width="0.35"><text x="-9.73" y="0">0</text></g><g transform="translate(281.27 856.15) scale(1 1.04)" fill="#fff" font-size="35" stroke="#000080" stroke-width="0.35"><text x="-9.73" y="0">0</text></g><g transform="translate(330.99 856.15) scale(1 1.04)" fill="#fff" font-size="35" stroke="#000080" stroke-width="0.35"><text x="-9.73" y="0">0</text></g><g transform="translate(380.71 856.15) scale(1 1.04)" fill="#fff" font-size="35" stroke="#000080" stroke-width="0.35"><text x="-9.73" y="0">0</text></g><g transform="translate(430.43 856.15) scale(1 1.04)" fill="#fff" font-size="35" stroke="#000080" stroke-width="0.35"><text x="-9.73" y="0">0</text></g><g transform="translate(480.15 856.15) scale(1 1.04)" fill="#fff" font-size="35" stroke="#000080" stroke-width="0.35"><text x="-9.73" y="0">0</text></g><g transform="translate(529.87 856.15) scale(1 1.04)" fill="#fff" font-size="35" stroke="#000080" stroke-width="0.35"><text x="-9.73" y="0">0</text></g><g transform="translate(579.59 856.15) scale(1 1.04)" fill="#fff" font-size="35" stroke="#000080" stroke-width="0.35"><text x="-9.73" y="0">0</text></g><g transform="translate(629.31 856.15) scale(1 1.04)" fill="#fff" font-size="35" stroke="#000080" stroke-width="0.35"><text x="-9.73" y="0">0</text></g><g transform="translate(679.03 856.15) scale(1 1.04)" fill="#fff" font-size="35" stroke="#000080" stroke-width="0.35"><text x="-9.73" y="0">0</text></g><g transform="translate(728.75 856.15) scale(1 1.04)" fill="#fff" font-size="35" stroke="#000080" stroke-width="0.35"><text x="-9.73" y="0">0</text></g><g transform="translate(778.47 856.15) scale(1 1.04)" fill="#fff" font-size="35" stroke="#000080" stroke-width="0.35"><text x="-9.73" y="0">0</text></g><g transform="translate(828.19 856.15) scale(1 1.04)" fill="#fff" font-size="35" stroke="#000080" stroke-width="0.35"><text x="-9.73" y="0">0</text></g><g transform="translate(877.91 856.15) scale(1 1.04)" fill="#fff" font-size="35" stroke="#000080" stroke-width="0.35"><text x="-9.73" y="0">0</text></g><g transform="translate(927.63 856.15) scale(1 1.04)" fill="#fff" font-size="35" stroke="#b326ff" stroke-width="0.35"><text x="-19.47" y="0">6</text><text x="0.00" y="0">6</text></g><g transform="translate(977.35 856.15) scale(1 1.04)" fill="#fff" font-size="35" stroke="#000080" stroke-width="0.35"><text x="-9.73" y="0">0</text></g><g transform="translate(1027.07 856.15) scale(1 1.04)" fill="#fff" font-size="35" stroke="#000080" stroke-width="0.35"><text x="-9.73" y="0">0</text></g><g transform="translate(1076.79 856.15) scale(1 1.04)" fill="#fff" font-size="35" stroke="#000080" stroke-width="0.35"><text x="-9.73" y="0">0</text></g><g transform="translate(1126.51 856.15) scale(1 1.04)" fill="#fff" font-size="35" stroke="#000080" stroke-width="0.35"><text x="-9.73" y="0">0</text></g><g transform="translate(1176.23 856.15) scale(1 1.04)" fill="#fff" font-size="35" stroke="#000080" stroke-width="0.35"><text x="-9.73" y="0">0</text></g><g transform="translate(181.83 905.87) scale(1 1.04)" fill="#fff" font-size="35" stroke="#000080" stroke-width="0.35"><text x="-9.73" y="0">0</text></g><g transform="translate(231.55 905.87) scale(1 1.04)" fill="#fff" font-size="35" stroke="#000080" stroke-width="0.35"><text x="-9.73" y="0">0</text></g><g transform="translate(281.27 905.87) scale(1 1.04)" fill="#fff" font-size="35" stroke="#001664" stroke-width="0.35"><use href="#one" transform="translate(-9.73 0) scale(35 -35)" stroke-width="0.0100"/></g><g transform="translate(330.99 905.87) scale(1 1.04)" fill="#fff" font-size="35" stroke="#000080" stroke-width="0.35"><text x="-9.73" y="0">0</text></g><g transform="translate(380.71 905.87) scale(1 1.04)" fill="#fff" font-size="35" stroke="#000080" stroke-width="0.35"><text x="-9.73" y="0">0</text></g><g transform="translate(430.43 905.87) scale(1 1.04)" fill="#fff" font-size="35" stroke="#000080" stroke-width="0.35"><text x="-9.73" y="0">0</text></g><g transform="translate(480.15 905.87) scale(1 1.04)" fill="#fff" font-size="35" stroke="#000080" stroke-width="0.35"><text x="-9.73" y="0">0</text></g><g transform="translate(529.87 905.87) scale(1 1.04)" fill="#fff" font-size="35" stroke="#000080" stroke-width="0.35"><text x="-9.73" y="0">0</text></g><g transform="translate(579.59 905.87) scale(1 1.04)" fill="#fff" font-size="35" stroke="#000080" stroke-width="0.35"><text x="-9.73" y="0">0</text></g><g transform="translate(629.31 905.87) scale(1 1.04)" fill="#fff" font-size="35" stroke="#000080" stroke-width="0.35"><text x="-9.73" y="0">0</text></g><g transform="translate(679.03 905.87) scale(1 1.04)" fill="#fff" font-size="35" stroke="#001664" stroke-width="0.35"><use href="#one" transform="translate(-9.73 0) scale(35 -35)" stroke-width="0.0100"/></g><g transform="translate(728.75 905.87) scale(1 1.04)" fill="#fff" font-size="35" stroke="#001664" stroke-width="0.35"><use href="#one" transform="translate(-9.73 0) scale(35 -35)" stroke-width="0.0100"/></g><g transform="translate(778.47 905.87) scale(1 1.04)" fill="#fff" font-size="35" stroke="#001664" stroke-width="0.35"><use href="#one" transform="translate(-9.73 0) scale(35 -35)" stroke-width="0.0100"/></g><g transform="translate(828.19 905.87) scale(1 1.04)" fill="#fff" font-size="35" stroke="#000080" stroke-width="0.35"><text x="-9.73" y="0">0</text></g><g transform="translate(877.91 905.87) scale(1 1.04)" fill="#fff" font-size="35" stroke="#000080" stroke-width="0.35"><text x="-9.73" y="0">0</text></g><g transform="translate(927.63 905.87) scale(1 1.04)" fill="#fff" font-size="35" stroke="#000080" stroke-width="0.35"><text x="-9.73" y="0">0</text></g><g transform="translate(977.35 905.87) scale(1 1.04)" fill="#fff" font-size="35" stroke="#a439fd" stroke-width="0.35"><text x="-19.47" y="0">6</text><text x="0.00" y="0">7</text></g><g transform="translate(1027.07 905.87) scale(1 1.04)" fill="#fff" font-size="35" stroke="#000080" stroke-width="0.35"><text x="-9.73" y="0">0</text></g><g transform="translate(1076.79 905.87) scale(1 1.04)" fill="#fff" font-size="35" stroke="#000080" stroke-width="0.35"><text x="-9.73" y="0">0</text></g><g transform="translate(1126.51 905.87) scale(1 1.04)" fill="#fff" font-size="35" stroke="#000080" stroke-width="0.35"><text x="-9.73" y="0">0</text></g><g transform="translate(1176.23 905.87) scale(1 1.04)" fill="#fff" font-size="35" stroke="#000080" stroke-width="0.35"><text x="-9.73" y="0">0</text></g><g transform="translate(181.83 955.59) scale(1 1.04)" fill="#fff" font-size="35" stroke="#000080" stroke-width="0.35"><text x="-9.73" y="0">0</text></g><g transform="translate(231.55 955.59) scale(1 1.04)" fill="#fff" font-size="35" stroke="#000080" stroke-width="0.35"><text x="-9.73" y="0">0</text></g><g transform="translate(281.27 955.59) scale(1 1.04)" fill="#fff" font-size="35" stroke="#000080" stroke-width="0.35"><text x="-9.73" y="0">0</text></g><g transform="translate(330.99 955.59) scale(1 1.04)" fill="#fff" font-size="35" stroke="#000080" stroke-width="0.35"><text x="-9.73" y="0">0</text></g><g transform="translate(380.71 955.59) scale(1 1.04)" fill="#fff" font-size="35" stroke="#000080" stroke-width="0.35"><text x="-9.73" y="0">0</text></g><g transform="translate(430.43 955.59) scale(1 1.04)" fill="#fff" font-size="35" stroke="#000080" stroke-width="0.35"><text x="-9.73" y="0">0</text></g><g transform="translate(480.15 955.59) scale(1 1.04)" fill="#fff" font-size="35" stroke="#000080" stroke-width="0.35"><text x="-9.73" y="0">0</text></g><g transform="translate(529.87 955.59) scale(1 1.04)" fill="#fff" font-size="35" stroke="#001664" stroke-width="0.35"><use href="#one" transform="translate(-9.73 0) scale(35 -35)" stroke-width="0.0100"/></g><g transform="translate(579.59 955.59) scale(1 1.04)" fill="#fff" font-size="35" stroke="#000080" stroke-width="0.35"><text x="-9.73" y="0">0</text></g><g transform="translate(629.31 955.59) scale(1 1.04)" fill="#fff" font-size="35" stroke="#000080" stroke-width="0.35"><text x="-9.73" y="0">0</text></g><g transform="translate(679.03 955.59) scale(1 1.04)" fill="#fff" font-size="35" stroke="#000080" stroke-width="0.35"><text x="-9.73" y="0">0</text></g><g transform="translate(728.75 955.59) scale(1 1.04)" fill="#fff" font-size="35" stroke="#000080" stroke-width="0.35"><text x="-9.73" y="0">0</text></g><g transform="translate(778.47 955.59) scale(1 1.04)" fill="#fff" font-size="35" stroke="#000080" stroke-width="0.35"><text x="-9.73" y="0">0</text></g><g transform="translate(828.19 955.59) scale(1 1.04)" fill="#fff" font-size="35" stroke="#000080" stroke-width="0.35"><text x="-9.73" y="0">0</text></g><g transform="translate(877.91 955.59) scale(1 1.04)" fill="#fff" font-size="35" stroke="#000080" stroke-width="0.35"><text x="-9.73" y="0">0</text></g><g transform="translate(927.63 955.59) scale(1 1.04)" fill="#fff" font-size="35" stroke="#000080" stroke-width="0.35"><text x="-9.73" y="0">0</text></g><g transform="translate(977.35 955.59) scale(1 1.04)" fill="#fff" font-size="35" stroke="#000080" stroke-width="0.35"><text x="-9.73" y="0">0</text></g><g transform="translate(1027.07 955.59) scale(1 1.04)" fill="#fff" font-size="35" stroke="#c85cf5" stroke-width="0.35"><text x="-19.47" y="0">6</text><text x="0.00" y="0">9</text></g><g transform="translate(1076.79 955.59) scale(1 1.04)" fill="#fff" font-size="35" stroke="#000080" stroke-width="0.35"><text x="-9.73" y="0">0</text></g><g transform="translate(1126.51 955.59) scale(1 1.04)" fill="#fff" font-size="35" stroke="#000080" stroke-width="0.35"><text x="-9.73" y="0">0</text></g><g transform="translate(1176.23 955.59) scale(1 1.04)" fill="#fff" font-size="35" stroke="#001664" stroke-width="0.35"><use href="#one" transform="translate(-9.73 0) scale(35 -35)" stroke-width="0.0100"/></g><g transform="translate(181.83 1005.31) scale(1 1.04)" fill="#fff" font-size="35" stroke="#000080" stroke-width="0.35"><text x="-9.73" y="0">0</text></g><g transform="translate(231.55 1005.31) scale(1 1.04)" fill="#fff" font-size="35" stroke="#000080" stroke-width="0.35"><text x="-9.73" y="0">0</text></g><g transform="translate(281.27 1005.31) scale(1 1.04)" fill="#fff" font-size="35" stroke="#000080" stroke-width="0.35"><text x="-9.73" y="0">0</text></g><g transform="translate(330.99 1005.31) scale(1 1.04)" fill="#fff" font-size="35" stroke="#000080" stroke-width="0.35"><text x="-9.73" y="0">0</text></g><g transform="translate(380.71 1005.31) scale(1 1.04)" fill="#fff" font-size="35" stroke="#000080" stroke-width="0.35"><text x="-9.73" y="0">0</text></g><g transform="translate(430.43 1005.31) scale(1 1.04)" fill="#fff" font-size="35" stroke="#000080" stroke-width="0.35"><text x="-9.73" y="0">0</text></g><g transform="translate(480.15 1005.31) scale(1 1.04)" fill="#fff" font-size="35" stroke="#000080" stroke-width="0.35"><text x="-9.73" y="0">0</text></g><g transform="translate(529.87 1005.31) scale(1 1.04)" fill="#fff" font-size="35" stroke="#000080" stroke-width="0.35"><text x="-9.73" y="0">0</text></g><g transform="translate(579.59 1005.31) scale(1 1.04)" fill="#fff" font-size="35" stroke="#000080" stroke-width="0.35"><text x="-9.73" y="0">0</text></g><g transform="translate(629.31 1005.31) scale(1 1.04)" fill="#fff" font-size="35" stroke="#000080" stroke-width="0.35"><text x="-9.73" y="0">0</text></g><g transform="translate(679.03 1005.31) scale(1 1.04)" fill="#fff" font-size="35" stroke="#000080" stroke-width="0.35"><text x="-9.73" y="0">0</text></g><g transform="translate(728.75 1005.31) scale(1 1.04)" fill="#fff" font-size="35" stroke="#000080" stroke-width="0.35"><text x="-9.73" y="0">0</text></g><g transform="translate(778.47 1005.31) scale(1 1.04)" fill="#fff" font-size="35" stroke="#000080" stroke-width="0.35"><text x="-9.73" y="0">0</text></g><g transform="translate(828.19 1005.31) scale(1 1.04)" fill="#fff" font-size="35" stroke="#001664" stroke-width="0.35"><use href="#one" transform="translate(-9.73 0) scale(35 -35)" stroke-width="0.0100"/></g><g transform="translate(877.91 1005.31) scale(1 1.04)" fill="#fff" font-size="35" stroke="#000080" stroke-width="0.35"><text x="-9.73" y="0">0</text></g><g transform="translate(927.63 1005.31) scale(1 1.04)" fill="#fff" font-size="35" stroke="#000080" stroke-width="0.35"><text x="-9.73" y="0">0</text></g><g transform="translate(977.35 1005.31) scale(1 1.04)" fill="#fff" font-size="35" stroke="#000080" stroke-width="0.35"><text x="-9.73" y="0">0</text></g><g transform="translate(1027.07 1005.31) scale(1 1.04)" fill="#fff" font-size="35" stroke="#001664" stroke-width="0.35"><use href="#one" transform="translate(-9.73 0) scale(35 -35)" stroke-width="0.0100"/></g><g transform="translate(1076.79 1005.31) scale(1 1.04)" fill="#fff" font-size="35" stroke="#ff00d5" stroke-width="0.35"><text x="-19.47" y="0">6</text><text x="0.00" y="0">2</text></g><g transform="translate(1126.51 1005.31) scale(1 1.04)" fill="#fff" font-size="35" stroke="#000080" stroke-width="0.35"><text x="-9.73" y="0">0</text></g><g transform="translate(1176.23 1005.31) scale(1 1.04)" fill="#fff" font-size="35" stroke="#000080" stroke-width="0.35"><text x="-9.73" y="0">0</text></g><g transform="translate(181.83 1055.03) scale(1 1.04)" fill="#fff" font-size="35" stroke="#000080" stroke-width="0.35"><text x="-9.73" y="0">0</text></g><g transform="translate(231.55 1055.03) scale(1 1.04)" fill="#fff" font-size="35" stroke="#000080" stroke-width="0.35"><text x="-9.73" y="0">0</text></g><g transform="translate(281.27 1055.03) scale(1 1.04)" fill="#fff" font-size="35" stroke="#000080" stroke-width="0.35"><text x="-9.73" y="0">0</text></g><g transform="translate(330.99 1055.03) scale(1 1.04)" fill="#fff" font-size="35" stroke="#000080" stroke-width="0.35"><text x="-9.73" y="0">0</text></g><g transform="translate(380.71 1055.03) scale(1 1.04)" fill="#fff" font-size="35" stroke="#000080" stroke-width="0.35"><text x="-9.73" y="0">0</text></g><g transform="translate(430.43 1055.03) scale(1 1.04)" fill="#fff" font-size="35" stroke="#000080" stroke-width="0.35"><text x="-9.73" y="0">0</text></g><g transform="translate(480.15 1055.03) scale(1 1.04)" fill="#fff" font-size="35" stroke="#000080" stroke-width="0.35"><text x="-9.73" y="0">0</text></g><g transform="translate(529.87 1055.03) scale(1 1.04)" fill="#fff" font-size="35" stroke="#000080" stroke-width="0.35"><text x="-9.73" y="0">0</text></g><g transform="translate(579.59 1055.03) scale(1 1.04)" fill="#fff" font-size="35" stroke="#000080" stroke-width="0.35"><text x="-9.73" y="0">0</text></g><g transform="translate(629.31 1055.03) scale(1 1.04)" fill="#fff" font-size="35" stroke="#000080" stroke-width="0.35"><text x="-9.73" y="0">0</text></g><g transform="translate(679.03 1055.03) scale(1 1.04)" fill="#fff" font-size="35" stroke="#000080" stroke-width="0.35"><text x="-9.73" y="0">0</text></g><g transform="translate(728.75 1055.03) scale(1 1.04)" fill="#fff" font-size="35" stroke="#000080" stroke-width="0.35"><text x="-9.73" y="0">0</text></g><g transform="translate(778.47 1055.03) scale(1 1.04)" fill="#fff" font-size="35" stroke="#000080" stroke-width="0.35"><text x="-9.73" y="0">0</text></g><g transform="translate(828.19 1055.03) scale(1 1.04)" fill="#fff" font-size="35" stroke="#000080" stroke-width="0.35"><text x="-9.73" y="0">0</text></g><g transform="translate(877.91 1055.03) scale(1 1.04)" fill="#fff" font-size="35" stroke="#000080" stroke-width="0.35"><text x="-9.73" y="0">0</text></g><g transform="translate(927.63 1055.03) scale(1 1.04)" fill="#fff" font-size="35" stroke="#000080" stroke-width="0.35"><text x="-9.73" y="0">0</text></g><g transform="translate(977.35 1055.03) scale(1 1.04)" fill="#fff" font-size="35" stroke="#000080" stroke-width="0.35"><text x="-9.73" y="0">0</text></g><g transform="translate(1027.07 1055.03) scale(1 1.04)" fill="#fff" font-size="35" stroke="#000080" stroke-width="0.35"><text x="-9.73" y="0">0</text></g><g transform="translate(1076.79 1055.03) scale(1 1.04)" fill="#fff" font-size="35" stroke="#000080" stroke-width="0.35"><text x="-9.73" y="0">0</text></g><g transform="translate(1126.51 1055.03) scale(1 1.04)" fill="#fff" font-size="35" stroke="#ec84ef" stroke-width="0.35"><text x="-19.47" y="0">7</text><use href="#one" transform="translate(0.00 0) scale(35 -35)" stroke-width="0.0100"/></g><g transform="translate(1176.23 1055.03) scale(1 1.04)" fill="#fff" font-size="35" stroke="#000080" stroke-width="0.35"><text x="-9.73" y="0">0</text></g><g transform="translate(181.83 1104.75) scale(1 1.04)" fill="#fff" font-size="35" stroke="#000080" stroke-width="0.35"><text x="-9.73" y="0">0</text></g><g transform="translate(231.55 1104.75) scale(1 1.04)" fill="#fff" font-size="35" stroke="#000080" stroke-width="0.35"><text x="-9.73" y="0">0</text></g><g transform="translate(281.27 1104.75) scale(1 1.04)" fill="#fff" font-size="35" stroke="#000080" stroke-width="0.35"><text x="-9.73" y="0">0</text></g><g transform="translate(330.99 1104.75) scale(1 1.04)" fill="#fff" font-size="35" stroke="#000080" stroke-width="0.35"><text x="-9.73" y="0">0</text></g><g transform="translate(380.71 1104.75) scale(1 1.04)" fill="#fff" font-size="35" stroke="#000080" stroke-width="0.35"><text x="-9.73" y="0">0</text></g><g transform="translate(430.43 1104.75) scale(1 1.04)" fill="#fff" font-size="35" stroke="#000080" stroke-width="0.35"><text x="-9.73" y="0">0</text></g><g transform="translate(480.15 1104.75) scale(1 1.04)" fill="#fff" font-size="35" stroke="#000080" stroke-width="0.35"><text x="-9.73" y="0">0</text></g><g transform="translate(529.87 1104.75) scale(1 1.04)" fill="#fff" font-size="35" stroke="#000080" stroke-width="0.35"><text x="-9.73" y="0">0</text></g><g transform="translate(579.59 1104.75) scale(1 1.04)" fill="#fff" font-size="35" stroke="#000080" stroke-width="0.35"><text x="-9.73" y="0">0</text></g><g transform="translate(629.31 1104.75) scale(1 1.04)" fill="#fff" font-size="35" stroke="#000080" stroke-width="0.35"><text x="-9.73" y="0">0</text></g><g transform="translate(679.03 1104.75) scale(1 1.04)" fill="#fff" font-size="35" stroke="#000080" stroke-width="0.35"><text x="-9.73" y="0">0</text></g><g transform="translate(728.75 1104.75) scale(1 1.04)" fill="#fff" font-size="35" stroke="#000080" stroke-width="0.35"><text x="-9.73" y="0">0</text></g><g transform="translate(778.47 1104.75) scale(1 1.04)" fill="#fff" font-size="35" stroke="#000080" stroke-width="0.35"><text x="-9.73" y="0">0</text></g><g transform="translate(828.19 1104.75) scale(1 1.04)" fill="#fff" font-size="35" stroke="#000080" stroke-width="0.35"><text x="-9.73" y="0">0</text></g><g transform="translate(877.91 1104.75) scale(1 1.04)" fill="#fff" font-size="35" stroke="#000080" stroke-width="0.35"><text x="-9.73" y="0">0</text></g><g transform="translate(927.63 1104.75) scale(1 1.04)" fill="#fff" font-size="35" stroke="#000080" stroke-width="0.35"><text x="-9.73" y="0">0</text></g><g transform="translate(977.35 1104.75) scale(1 1.04)" fill="#fff" font-size="35" stroke="#000080" stroke-width="0.35"><text x="-9.73" y="0">0</text></g><g transform="translate(1027.07 1104.75) scale(1 1.04)" fill="#fff" font-size="35" stroke="#000080" stroke-width="0.35"><text x="-9.73" y="0">0</text></g><g transform="translate(1076.79 1104.75) scale(1 1.04)" fill="#fff" font-size="35" stroke="#000080" stroke-width="0.35"><text x="-9.73" y="0">0</text></g><g transform="translate(1126.51 1104.75) scale(1 1.04)" fill="#fff" font-size="35" stroke="#000080" stroke-width="0.35"><text x="-9.73" y="0">0</text></g><g transform="translate(1176.23 1104.75) scale(1 1.04)" fill="#262626" font-size="35" stroke="#f0a0f2" stroke-width="0.35"><text x="-19.47" y="0">7</text><text x="0.00" y="0">3</text></g></g>
<path d="M181.03 1120.9V1129M148.2 102.25H157M230.75 1120.9V1129M148.2 151.97H157M280.47 1120.9V1129M148.2 201.69H157M330.19 1120.9V1129M148.2 251.41H157M379.91 1120.9V1129M148.2 301.13H157M429.63 1120.9V1129M148.2 350.85H157M479.35 1120.9V1129M148.2 400.57H157M529.07 1120.9V1129M148.2 450.29H157M578.79 1120.9V1129M148.2 500.01H157M628.51 1120.9V1129M148.2 549.73H157M678.23 1120.9V1129M148.2 599.45H157M727.95 1120.9V1129M148.2 649.17H157M777.67 1120.9V1129M148.2 698.89H157M827.39 1120.9V1129M148.2 748.61H157M877.11 1120.9V1129M148.2 798.33H157M926.83 1120.9V1129M148.2 848.05H157M976.55 1120.9V1129M148.2 897.77H157M1026.27 1120.9V1129M148.2 947.49H157M1075.99 1120.9V1129M148.2 997.21H157M1125.71 1120.9V1129M148.2 1046.93H157M1175.43 1120.9V1129M148.2 1096.65H157" stroke="#000" stroke-width="1.7" fill="none"/>
<g><g transform="translate(181.27 1170.0) scale(1 1.04)" fill="#262626" font-size="35" stroke="#fff" stroke-width="0.35"><text x="-9.73" y="0">0</text></g><g transform="translate(230.12 1170.0) scale(1 1.04)" fill="#262626" font-size="35" stroke="#fff" stroke-width="0.35"><use href="#one" transform="translate(-9.73 0) scale(35 -35)" stroke-width="0.0100"/></g><g transform="translate(281.72 1170.0) scale(1 1.04)" fill="#262626" font-size="35" stroke="#fff" stroke-width="0.35"><text x="-9.73" y="0">2</text></g><g transform="translate(330.93 1170.0) scale(1 1.04)" fill="#262626" font-size="35" stroke="#fff" stroke-width="0.35"><text x="-9.73" y="0">3</text></g><g transform="translate(379.28 1170.0) scale(1 1.04)" fill="#262626" font-size="35" stroke="#fff" stroke-width="0.35"><text x="-9.73" y="0">4</text></g><g transform="translate(430.38 1170.0) scale(1 1.04)" fill="#262626" font-size="35" stroke="#fff" stroke-width="0.35"><text x="-9.73" y="0">5</text></g><g transform="translate(480.34 1170.0) scale(1 1.04)" fill="#262626" font-size="35" stroke="#fff" stroke-width="0.35"><text x="-9.73" y="0">6</text></g><g transform="translate(529.07 1170.0) scale(1 1.04)" fill="#262626" font-size="35" stroke="#fff" stroke-width="0.35"><text x="-9.73" y="0">7</text></g><g transform="translate(579.79 1170.0) scale(1 1.04)" fill="#262626" font-size="35" stroke="#fff" stroke-width="0.35"><text x="-9.73" y="0">8</text></g><g transform="translate(628.74 1170.0) scale(1 1.04)" fill="#262626" font-size="35" stroke="#fff" stroke-width="0.35"><text x="-9.73" y="0">9</text></g><g transform="translate(675.70 1170.0) scale(1 1.04)" fill="#262626" font-size="35" stroke="#fff" stroke-width="0.35"><use href="#one" transform="translate(-19.47 0) scale(35 -35)" stroke-width="0.0100"/><text x="0.00" y="0">0</text></g><g transform="translate(727.20 1170.0) scale(1 1.04)" fill="#262626" font-size="35" stroke="#fff" stroke-width="0.35"><use href="#one" transform="translate(-19.47 0) scale(35 -35)" stroke-width="0.0100"/><use href="#one" transform="translate(0.00 0) scale(35 -35)" stroke-width="0.0100"/></g><g transform="translate(777.90 1170.0) scale(1 1.04)" fill="#262626" font-size="35" stroke="#fff" stroke-width="0.35"><use href="#one" transform="translate(-19.47 0) scale(35 -35)" stroke-width="0.0100"/><text x="0.00" y="0">2</text></g><g transform="translate(826.16 1170.0) scale(1 1.04)" fill="#262626" font-size="35" stroke="#fff" stroke-width="0.35"><use href="#one" transform="translate(-19.47 0) scale(35 -35)" stroke-width="0.0100"/><text x="0.00" y="0">3</text></g><g transform="translate(875.61 1170.0) scale(1 1.04)" fill="#262626" font-size="35" stroke="#fff" stroke-width="0.35"><use href="#one" transform="translate(-19.47 0) scale(35 -35)" stroke-width="0.0100"/><text x="0.00" y="0">4</text></g><g transform="translate(925.71 1170.0) scale(1 1.04)" fill="#262626" font-size="35" stroke="#fff" stroke-width="0.35"><use href="#one" transform="translate(-19.47 0) scale(35 -35)" stroke-width="0.0100"/><text x="0.00" y="0">5</text></g><g transform="translate(975.71 1170.0) scale(1 1.04)" fill="#262626" font-size="35" stroke="#fff" stroke-width="0.35"><use href="#one" transform="translate(-19.47 0) scale(35 -35)" stroke-width="0.0100"/><text x="0.00" y="0">6</text></g><g transform="translate(1024.82 1170.0) scale(1 1.04)" fill="#262626" font-size="35" stroke="#fff" stroke-width="0.35"><use href="#one" transform="translate(-19.47 0) scale(35 -35)" stroke-width="0.0100"/><text x="0.00" y="0">7</text></g><g transform="translate(1075.57 1170.0) scale(1 1.04)" fill="#262626" font-size="35" stroke="#fff" stroke-width="0.35"><use href="#one" transform="translate(-19.47 0) scale(35 -35)" stroke-width="0.0100"/><text x="0.00" y="0">8</text></g><g transform="translate(1125.17 1170.0) scale(1 1.04)" fill="#262626" font-size="35" stroke="#fff" stroke-width="0.35"><use href="#one" transform="translate(-19.47 0) scale(35 -35)" stroke-width="0.0100"/><text x="0.00" y="0">9</text></g><g transform="translate(1174.93 1170.0) scale(1 1.04)" fill="#262626" font-size="35" stroke="#fff" stroke-width="0.35"><text x="-19.47" y="0">2</text><text x="0.00" y="0">0</text></g><g transform="translate(123.7 103.65) rotate(-90) scale(1 1.04)" fill="#262626" font-size="35" stroke="#fff" stroke-width="0.35"><text x="-9.73" y="0">0</text></g><g transform="translate(123.7 154.37) rotate(-90) scale(1 1.04)" fill="#262626" font-size="35" stroke="#fff" stroke-width="0.35"><use href="#one" transform="translate(-9.73 0) scale(35 -35)" stroke-width="0.0100"/></g><g transform="translate(123.7 201.56) rotate(-90) scale(1 1.04)" fill="#262626" font-size="35" stroke="#fff" stroke-width="0.35"><text x="-9.73" y="0">2</text></g><g transform="translate(123.7 250.19) rotate(-90) scale(1 1.04)" fill="#262626" font-size="35" stroke="#fff" stroke-width="0.35"><text x="-9.73" y="0">3</text></g><g transform="translate(123.7 301.91) rotate(-90) scale(1 1.04)" fill="#262626" font-size="35" stroke="#fff" stroke-width="0.35"><text x="-9.73" y="0">4</text></g><g transform="translate(123.7 350.45) rotate(-90) scale(1 1.04)" fill="#262626" font-size="35" stroke="#fff" stroke-width="0.35"><text x="-9.73" y="0">5</text></g><g transform="translate(123.7 400.38) rotate(-90) scale(1 1.04)" fill="#262626" font-size="35" stroke="#fff" stroke-width="0.35"><text x="-9.73" y="0">6</text></g><g transform="translate(123.7 450.90) rotate(-90) scale(1 1.04)" fill="#262626" font-size="35" stroke="#fff" stroke-width="0.35"><text x="-9.73" y="0">7</text></g><g transform="translate(123.7 500.24) rotate(-90) scale(1 1.04)" fill="#262626" font-size="35" stroke="#fff" stroke-width="0.35"><text x="-9.73" y="0">8</text></g><g transform="translate(123.7 549.36) rotate(-90) scale(1 1.04)" fill="#262626" font-size="35" stroke="#fff" stroke-width="0.35"><text x="-9.73" y="0">9</text></g><g transform="translate(123.7 602.34) rotate(-90) scale(1 1.04)" fill="#262626" font-size="35" stroke="#fff" stroke-width="0.35"><use href="#one" transform="translate(-19.47 0) scale(35 -35)" stroke-width="0.0100"/><text x="0.00" y="0">0</text></g><g transform="translate(123.7 652.18) rotate(-90) scale(1 1.04)" fill="#262626" font-size="35" stroke="#fff" stroke-width="0.35"><use href="#one" transform="translate(-19.47 0) scale(35 -35)" stroke-width="0.0100"/><use href="#one" transform="translate(0.00 0) scale(35 -35)" stroke-width="0.0100"/></g><g transform="translate(123.7 701.66) rotate(-90) scale(1 1.04)" fill="#262626" font-size="35" stroke="#fff" stroke-width="0.35"><use href="#one" transform="translate(-19.47 0) scale(35 -35)" stroke-width="0.0100"/><text x="0.00" y="0">2</text></g><g transform="translate(123.7 750.59) rotate(-90) scale(1 1.04)" fill="#262626" font-size="35" stroke="#fff" stroke-width="0.35"><use href="#one" transform="translate(-19.47 0) scale(35 -35)" stroke-width="0.0100"/><text x="0.00" y="0">3</text></g><g transform="translate(123.7 801.91) rotate(-90) scale(1 1.04)" fill="#262626" font-size="35" stroke="#fff" stroke-width="0.35"><use href="#one" transform="translate(-19.47 0) scale(35 -35)" stroke-width="0.0100"/><text x="0.00" y="0">4</text></g><g transform="translate(123.7 850.84) rotate(-90) scale(1 1.04)" fill="#262626" font-size="35" stroke="#fff" stroke-width="0.35"><use href="#one" transform="translate(-19.47 0) scale(35 -35)" stroke-width="0.0100"/><text x="0.00" y="0">5</text></g><g transform="translate(123.7 900.27) rotate(-90) scale(1 1.04)" fill="#262626" font-size="35" stroke="#fff" stroke-width="0.35"><use href="#one" transform="translate(-19.47 0) scale(35 -35)" stroke-width="0.0100"/><text x="0.00" y="0">6</text></g><g transform="translate(123.7 950.41) rotate(-90) scale(1 1.04)" fill="#262626" font-size="35" stroke="#fff" stroke-width="0.35"><use href="#one" transform="translate(-19.47 0) scale(35 -35)" stroke-width="0.0100"/><text x="0.00" y="0">7</text></g><g transform="translate(123.7 1000.64) rotate(-90) scale(1 1.04)" fill="#262626" font-size="35" stroke="#fff" stroke-width="0.35"><use href="#one" transform="translate(-19.47 0) scale(35 -35)" stroke-width="0.0100"/><text x="0.00" y="0">8</text></g><g transform="translate(123.7 1049.77) rotate(-90) scale(1 1.04)" fill="#262626" font-size="35" stroke="#fff" stroke-width="0.35"><use href="#one" transform="translate(-19.47 0) scale(35 -35)" stroke-width="0.0100"/><text x="0.00" y="0">9</text></g><g transform="translate(123.7 1096.75) rotate(-90) scale(1 1.04)" fill="#262626" font-size="35" stroke="#fff" stroke-width="0.35"><text x="-19.47" y="0">2</text><text x="0.00" y="0">0</text></g></g>
<text transform="translate(677.5 38.7) scale(0.9437 1)" font-size="55" fill="#262626" text-anchor="middle">Training Phase (70%) - UCM Dataset</text>
<text transform="translate(678 1259.5) scale(1 1.03)" font-size="56.5" fill="#262626" text-anchor="middle">Predicted</text>
<text transform="translate(42.8 601.5) rotate(-90)" font-size="57.5" fill="#262626" text-anchor="middle">Actual</text>
</g></svg></div></body></html>
